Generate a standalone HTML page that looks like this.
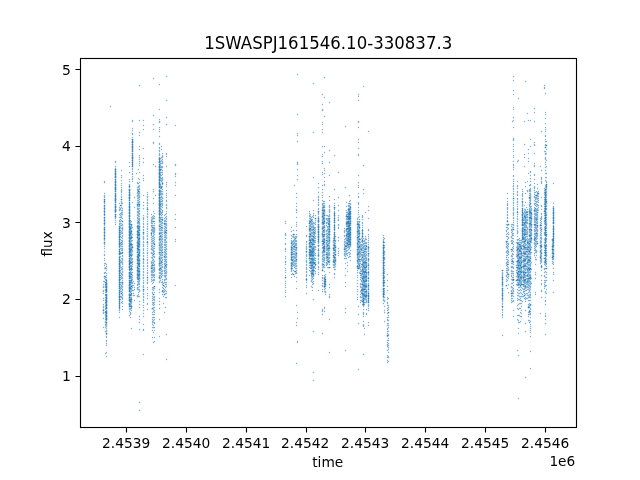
<!DOCTYPE html>
<html><head><meta charset="utf-8"><title>1SWASPJ161546.10-330837.3</title>
<style>html,body{margin:0;padding:0;background:#fff}svg{display:block}text{font-family:'DejaVu Sans','Liberation Sans',sans-serif;fill:#000}</style></head>
<body>
<svg width="640" height="480" viewBox="0 0 640 480">
<rect width="640" height="480" fill="#fff"/>
<g fill="none" stroke="#1f77b4" stroke-linecap="round">
<path stroke-width="1.35" stroke-opacity="0.58" d="M103.5 281.5h0M103.5 284.5h0M103.5 286.5v1M103.5 290.5v1M103.5 293.5h0M103.5 298.5h0M103.5 300.5h0M103.5 304.5h0M103.5 306.5v1M103.5 309.5h0M103.5 312.5v1M103.5 318.5h0M103.5 327.5h0M104.5 181.5v1M104.5 193.5h0M104.5 195.5v2M104.5 200.5h0M104.5 202.5v1M104.5 206.5v1M104.5 209.5v1M104.5 212.5v1M104.5 215.5h0M104.5 218.5v1M104.5 221.5v1M104.5 224.5v1M104.5 228.5h0M104.5 230.5v1M104.5 233.5v1M104.5 236.5v1M104.5 239.5v1M104.5 243.5v1M104.5 246.5h0M104.5 248.5h0M104.5 251.5h0M104.5 254.5v1M104.5 258.5h0M104.5 260.5h0M104.5 263.5h0M104.5 265.5h0M104.5 268.5h0M104.5 272.5v1M104.5 278.5h0M104.5 281.5h0M105.5 263.5h0M105.5 267.5v1M105.5 272.5h0M105.5 276.5v1M105.5 279.5h0M105.5 284.5v3M105.5 289.5v1M105.5 292.5h0M105.5 294.5v1M105.5 297.5h0M105.5 299.5v1M105.5 302.5v1M105.5 305.5v1M105.5 308.5v1M105.5 311.5h0M105.5 314.5v1M105.5 317.5h0M105.5 319.5h0M105.5 321.5v1M105.5 324.5v1M105.5 327.5h0M105.5 331.5h0M105.5 353.5h0M106.5 264.5h0M106.5 266.5h0M106.5 268.5h0M106.5 270.5h0M106.5 273.5h0M106.5 275.5h0M106.5 277.5h0M106.5 279.5h0M106.5 281.5v1M106.5 285.5h0M106.5 288.5h0M106.5 292.5h0M106.5 296.5h0M106.5 299.5h0M106.5 303.5h0M106.5 306.5h0M106.5 310.5h0M106.5 314.5h0M106.5 317.5h0M106.5 320.5h0M106.5 323.5v3M106.5 328.5h0M106.5 330.5v1M106.5 334.5h0M106.5 336.5v1M106.5 340.5v1M106.5 343.5h0M106.5 345.5h0M106.5 352.5h0M106.5 356.5h0M110.5 106.5h0M115.5 161.5v1M115.5 166.5h0M115.5 168.5h0M115.5 170.5h0M115.5 172.5h0M115.5 175.5h0M115.5 180.5h0M115.5 183.5h0M115.5 186.5h0M115.5 190.5h0M115.5 194.5h0M115.5 197.5h0M115.5 201.5h0M115.5 205.5h0M115.5 208.5h0M115.5 212.5h0M115.5 215.5h0M115.5 217.5v1M115.5 220.5h0M115.5 222.5h0M115.5 224.5h0M119.5 203.5h0M119.5 207.5h0M119.5 209.5v1M119.5 214.5h0M119.5 217.5h0M119.5 220.5v1M119.5 223.5v1M119.5 227.5h0M119.5 229.5h0M119.5 231.5h0M119.5 233.5h0M119.5 235.5h0M119.5 238.5h0M119.5 240.5h0M119.5 242.5h0M119.5 245.5h0M119.5 247.5h0M119.5 250.5h0M119.5 252.5h0M119.5 256.5h0M119.5 258.5h0M119.5 260.5h0M119.5 262.5h0M119.5 265.5h0M119.5 267.5h0M119.5 269.5h0M119.5 272.5h0M119.5 274.5h0M119.5 276.5h0M119.5 278.5h0M119.5 281.5h0M119.5 283.5h0M119.5 285.5h0M119.5 287.5h0M119.5 291.5h0M119.5 293.5h0M119.5 295.5h0M119.5 298.5h0M119.5 300.5h0M119.5 302.5h0M119.5 304.5h0M119.5 306.5h0M119.5 308.5v2M119.5 312.5h0M119.5 317.5h0M120.5 208.5v1M120.5 213.5h0M120.5 215.5h0M120.5 217.5h0M120.5 219.5h0M120.5 221.5h0M120.5 223.5h0M120.5 225.5h0M120.5 227.5h0M120.5 230.5h0M120.5 232.5h0M120.5 234.5h0M120.5 236.5h0M120.5 239.5h0M120.5 243.5h0M120.5 245.5h0M120.5 248.5h0M120.5 252.5h0M120.5 256.5h0M120.5 260.5h0M120.5 262.5h0M120.5 265.5h0M120.5 267.5h0M120.5 270.5h0M120.5 272.5h0M120.5 275.5h0M120.5 277.5h0M120.5 279.5h0M120.5 282.5h0M120.5 284.5h0M120.5 287.5h0M120.5 289.5h0M120.5 291.5h0M120.5 296.5h0M120.5 299.5h0M121.5 170.5h0M121.5 175.5h0M121.5 177.5h0M121.5 180.5h0M121.5 183.5h0M121.5 185.5h0M121.5 187.5h0M121.5 189.5v3M121.5 194.5h0M121.5 196.5v1M121.5 201.5v2M121.5 205.5h0M121.5 207.5h0M121.5 210.5h0M121.5 212.5v2M121.5 216.5v1M121.5 220.5h0M121.5 223.5h0M121.5 225.5h0M121.5 228.5h0M121.5 231.5h0M121.5 233.5h0M121.5 237.5h0M121.5 240.5h0M121.5 244.5h0M121.5 246.5h0M121.5 248.5h0M121.5 250.5h0M121.5 253.5h0M121.5 258.5h0M121.5 261.5v1M121.5 267.5h0M121.5 269.5h0M121.5 273.5v1M121.5 276.5h0M121.5 278.5h0M121.5 282.5h0M121.5 285.5v1M121.5 288.5h0M121.5 291.5h0M121.5 296.5v1M121.5 302.5h0M122.5 203.5h0M122.5 208.5h0M122.5 210.5h0M122.5 212.5h0M122.5 214.5h0M122.5 218.5h0M122.5 224.5v1M122.5 227.5v3M122.5 232.5v1M122.5 235.5v1M122.5 238.5h0M122.5 240.5v1M122.5 243.5v1M122.5 246.5h0M122.5 248.5v2M122.5 253.5h0M122.5 255.5v1M122.5 258.5v2M122.5 262.5v2M122.5 266.5h0M122.5 268.5v1M122.5 271.5v1M122.5 274.5v1M122.5 277.5v1M122.5 280.5h0M122.5 283.5v1M122.5 286.5v1M122.5 289.5v1M122.5 292.5h0M122.5 294.5v1M122.5 297.5v2M122.5 301.5h0M122.5 303.5h0M122.5 306.5h0M122.5 309.5h0M129.5 162.5h0M129.5 166.5h0M129.5 172.5h0M129.5 179.5h0M129.5 181.5h0M129.5 184.5v1M129.5 187.5h0M129.5 191.5h0M129.5 193.5h0M129.5 196.5h0M129.5 199.5h0M129.5 203.5h0M129.5 205.5h0M129.5 208.5h0M129.5 211.5h0M129.5 214.5h0M129.5 217.5h0M129.5 219.5h0M129.5 222.5h0M129.5 225.5h0M129.5 228.5h0M129.5 230.5h0M129.5 233.5h0M129.5 236.5h0M129.5 239.5h0M129.5 242.5h0M129.5 244.5h0M129.5 247.5h0M129.5 250.5h0M129.5 253.5h0M129.5 255.5h0M129.5 259.5h0M129.5 262.5h0M129.5 265.5h0M129.5 268.5h0M129.5 270.5h0M129.5 274.5h0M129.5 277.5h0M129.5 281.5h0M129.5 283.5h0M129.5 286.5h0M129.5 289.5h0M129.5 293.5h0M129.5 296.5h0M129.5 298.5h0M129.5 301.5h0M129.5 305.5h0M129.5 308.5v1M129.5 311.5h0M129.5 315.5h0M130.5 220.5h0M130.5 222.5h0M130.5 224.5h0M130.5 226.5v1M130.5 229.5v3M130.5 234.5v3M130.5 239.5h0M130.5 241.5v2M130.5 245.5h0M130.5 247.5v2M130.5 251.5v3M130.5 257.5v2M130.5 261.5h0M130.5 263.5h0M130.5 265.5v1M130.5 268.5h0M130.5 271.5v3M130.5 277.5v1M130.5 280.5v1M130.5 283.5v1M130.5 286.5v1M130.5 289.5h0M130.5 291.5v1M130.5 294.5h0M130.5 297.5v3M130.5 302.5h0M130.5 304.5v2M130.5 308.5v1M130.5 312.5v2M130.5 317.5h0M131.5 221.5h0M131.5 225.5v3M131.5 230.5h0M131.5 232.5v1M131.5 235.5v1M131.5 238.5h0M131.5 240.5v1M131.5 243.5h0M131.5 245.5v3M131.5 251.5v3M131.5 256.5h0M131.5 258.5v2M131.5 263.5h0M131.5 265.5v2M131.5 269.5v1M131.5 272.5v1M131.5 276.5v3M131.5 281.5v2M131.5 285.5h0M131.5 288.5v3M131.5 294.5v1M131.5 297.5v1M131.5 300.5v3M131.5 305.5h0M131.5 307.5v1M131.5 310.5h0M131.5 328.5h0M132.5 120.5v1M132.5 128.5h0M132.5 130.5h0M132.5 133.5v1M132.5 137.5h0M132.5 140.5h0M132.5 143.5h0M132.5 145.5h0M132.5 148.5h0M132.5 150.5h0M132.5 154.5h0M132.5 156.5h0M132.5 159.5h0M132.5 161.5h0M132.5 163.5h0M132.5 165.5h0M132.5 168.5v1M132.5 171.5h0M132.5 173.5v1M132.5 176.5h0M132.5 178.5v1M132.5 181.5h0M132.5 202.5h0M132.5 227.5h0M132.5 234.5h0M132.5 237.5h0M132.5 240.5h0M132.5 244.5h0M132.5 246.5h0M132.5 250.5v1M132.5 254.5h0M132.5 258.5v1M132.5 261.5v1M132.5 264.5h0M132.5 266.5h0M132.5 269.5h0M132.5 272.5h0M132.5 275.5h0M132.5 277.5h0M132.5 279.5h0M132.5 282.5v1M132.5 285.5h0M132.5 287.5h0M132.5 290.5h0M133.5 281.5h0M133.5 285.5h0M133.5 290.5h0M133.5 293.5h0M133.5 295.5h0M134.5 197.5h0M134.5 207.5h0M134.5 283.5h0M134.5 287.5h0M134.5 289.5h0M134.5 295.5h0M134.5 300.5h0M136.5 173.5h0M137.5 182.5v1M137.5 187.5h0M137.5 189.5v1M137.5 192.5v1M137.5 195.5v1M137.5 198.5h0M137.5 200.5h0M137.5 202.5h0M137.5 205.5v1M137.5 208.5v1M137.5 211.5v1M137.5 214.5v1M137.5 217.5v1M137.5 220.5h0M137.5 222.5v1M137.5 225.5h0M137.5 227.5v1M137.5 230.5h0M137.5 232.5v1M137.5 235.5v1M137.5 238.5h0M137.5 240.5v1M137.5 243.5v1M137.5 246.5v1M137.5 249.5v2M137.5 254.5v1M137.5 257.5v1M137.5 260.5v2M137.5 265.5v1M137.5 268.5v1M137.5 271.5v2M137.5 275.5v1M137.5 278.5v1M137.5 281.5h0M137.5 284.5v1M137.5 287.5v2M137.5 295.5v1M138.5 169.5h0M138.5 178.5h0M138.5 183.5h0M138.5 186.5v1M138.5 189.5v1M138.5 193.5v2M138.5 197.5v1M138.5 200.5h0M138.5 202.5v2M138.5 206.5h0M138.5 208.5v1M138.5 211.5v2M138.5 215.5v1M138.5 218.5v1M138.5 222.5v1M138.5 225.5v2M138.5 229.5v2M138.5 233.5v1M138.5 237.5v1M138.5 240.5v2M138.5 244.5v1M138.5 247.5v1M138.5 250.5v1M138.5 253.5h0M138.5 255.5v1M138.5 258.5v1M138.5 261.5v2M138.5 265.5v1M138.5 269.5v1M138.5 272.5v2M138.5 276.5v2M138.5 281.5v3M138.5 287.5h0M138.5 289.5h0M138.5 292.5h0M138.5 294.5h0M138.5 296.5h0M139.5 85.5h0M139.5 120.5h0M139.5 132.5h0M139.5 135.5h0M139.5 146.5h0M139.5 149.5h0M139.5 155.5h0M139.5 157.5h0M139.5 159.5h0M139.5 161.5h0M139.5 163.5h0M139.5 165.5h0M139.5 172.5h0M139.5 179.5h0M139.5 182.5h0M139.5 185.5v1M139.5 188.5v1M139.5 191.5v2M139.5 195.5v2M139.5 199.5h0M139.5 201.5v1M139.5 205.5v1M139.5 208.5h0M139.5 210.5v1M139.5 213.5v1M139.5 216.5h0M139.5 218.5v2M139.5 222.5v2M139.5 227.5v2M139.5 232.5v1M139.5 235.5v2M139.5 239.5v1M139.5 242.5v1M139.5 245.5v2M139.5 250.5v1M139.5 253.5v1M139.5 256.5h0M139.5 258.5v1M139.5 261.5v1M139.5 264.5v1M139.5 268.5v2M139.5 272.5v1M139.5 275.5v2M139.5 280.5v1M139.5 283.5v1M139.5 286.5h0M139.5 289.5v2M139.5 296.5h0M139.5 301.5h0M139.5 304.5h0M139.5 307.5h0M139.5 316.5h0M139.5 319.5h0M139.5 322.5h0M139.5 329.5h0M139.5 402.5h0M139.5 410.5h0M143.5 120.5h0M143.5 125.5h0M143.5 129.5h0M143.5 148.5h0M143.5 158.5h0M143.5 162.5h0M143.5 175.5h0M143.5 178.5h0M143.5 180.5h0M143.5 195.5h0M143.5 202.5h0M143.5 205.5h0M143.5 208.5h0M143.5 215.5h0M143.5 217.5v2M143.5 221.5h0M143.5 223.5v1M143.5 226.5v1M143.5 229.5v1M143.5 233.5v1M143.5 236.5v3M143.5 241.5v1M143.5 244.5v2M143.5 248.5v2M143.5 252.5v1M143.5 255.5v1M143.5 258.5h0M143.5 261.5v2M143.5 265.5v1M143.5 268.5v1M143.5 271.5v1M143.5 274.5v1M143.5 277.5v1M143.5 280.5h0M143.5 282.5v1M143.5 285.5v2M143.5 290.5v1M143.5 293.5v1M143.5 296.5v1M143.5 299.5v1M143.5 302.5h0M143.5 305.5h0M143.5 307.5h0M143.5 310.5h0M143.5 313.5h0M143.5 316.5h0M143.5 324.5h0M143.5 329.5v1M143.5 354.5h0M147.5 192.5h0M147.5 194.5h0M147.5 196.5v1M147.5 199.5v1M147.5 202.5v1M147.5 205.5h0M147.5 207.5v1M147.5 211.5h0M147.5 213.5v1M147.5 216.5v1M147.5 219.5h0M147.5 221.5h0M147.5 223.5v1M147.5 226.5h0M147.5 228.5v1M147.5 231.5h0M147.5 233.5h0M147.5 235.5v1M147.5 238.5v1M147.5 241.5h0M147.5 244.5h0M147.5 246.5h0M147.5 248.5h0M147.5 250.5h0M147.5 252.5v1M147.5 255.5h0M147.5 257.5h0M147.5 259.5v1M147.5 262.5v1M147.5 265.5v1M147.5 268.5h0M147.5 270.5h0M147.5 272.5v1M147.5 275.5h0M147.5 279.5v1M147.5 282.5v1M147.5 287.5h0M147.5 289.5h0M147.5 293.5h0M147.5 295.5h0M147.5 298.5h0M147.5 303.5v1M147.5 309.5h0M151.5 214.5h0M151.5 217.5h0M151.5 219.5v4M151.5 225.5v1M151.5 229.5v1M151.5 232.5h0M151.5 234.5v1M151.5 237.5h0M151.5 239.5h0M151.5 241.5h0M151.5 243.5h0M151.5 245.5v1M151.5 248.5v1M151.5 252.5v1M151.5 257.5h0M151.5 261.5v2M151.5 265.5v2M151.5 270.5v2M151.5 274.5v1M151.5 277.5h0M151.5 279.5h0M151.5 281.5h0M152.5 216.5h0M152.5 218.5v1M152.5 221.5h0M152.5 223.5h0M152.5 225.5h0M152.5 229.5v2M152.5 236.5h0M152.5 238.5h0M152.5 240.5v1M152.5 243.5h0M152.5 245.5h0M152.5 247.5h0M152.5 249.5v1M152.5 253.5h0M152.5 255.5h0M152.5 257.5v1M152.5 260.5h0M152.5 262.5h0M152.5 264.5h0M152.5 267.5v1M152.5 270.5v2M152.5 274.5v1M152.5 277.5h0M152.5 280.5h0M152.5 283.5h0M152.5 287.5h0M152.5 289.5h0M152.5 292.5v1M152.5 296.5h0M152.5 298.5h0M152.5 300.5h0M152.5 302.5h0M152.5 304.5h0M152.5 312.5h0M152.5 314.5h0M152.5 317.5h0M152.5 319.5h0M152.5 321.5v1M152.5 324.5h0M152.5 327.5h0M152.5 330.5h0M152.5 337.5h0M153.5 78.5h0M153.5 115.5h0M153.5 124.5h0M153.5 129.5h0M153.5 142.5v1M153.5 164.5h0M153.5 189.5h0M153.5 191.5h0M153.5 198.5h0M153.5 203.5h0M153.5 211.5h0M153.5 215.5h0M153.5 217.5v1M153.5 225.5h0M153.5 227.5v6M153.5 235.5v1M153.5 238.5h0M153.5 240.5h0M153.5 242.5v1M153.5 246.5h0M153.5 248.5h0M153.5 250.5v2M153.5 256.5h0M153.5 259.5v1M153.5 262.5v1M153.5 265.5h0M153.5 267.5h0M153.5 269.5v1M153.5 272.5h0M153.5 274.5v2M153.5 279.5v1M153.5 282.5h0M153.5 287.5v1M153.5 290.5h0M153.5 297.5h0M153.5 299.5h0M153.5 302.5v1M153.5 305.5h0M153.5 307.5h0M153.5 309.5h0M153.5 311.5h0M153.5 314.5h0M153.5 317.5h0M153.5 320.5h0M153.5 322.5h0M153.5 325.5h0M153.5 327.5h0M153.5 332.5h0M153.5 342.5h0M154.5 213.5h0M154.5 216.5h0M154.5 218.5h0M154.5 221.5h0M154.5 223.5h0M154.5 225.5h0M154.5 227.5v5M154.5 234.5h0M154.5 237.5h0M154.5 239.5h0M154.5 241.5h0M154.5 243.5h0M154.5 246.5h0M154.5 248.5h0M154.5 251.5h0M154.5 253.5h0M154.5 256.5v1M154.5 261.5h0M154.5 264.5v1M154.5 267.5v4M154.5 274.5v1M154.5 277.5h0M154.5 279.5v1M154.5 288.5h0M154.5 292.5h0M154.5 296.5v1M154.5 299.5v1M154.5 302.5h0M154.5 304.5h0M154.5 307.5h0M154.5 310.5h0M154.5 312.5h0M154.5 314.5h0M154.5 317.5h0M154.5 319.5h0M154.5 322.5v1M154.5 327.5h0M154.5 330.5h0M154.5 337.5h0M154.5 341.5h0M155.5 166.5h0M155.5 195.5h0M159.5 84.5h0M159.5 109.5h0M159.5 119.5h0M159.5 121.5v1M159.5 127.5h0M159.5 129.5h0M159.5 131.5h0M159.5 136.5h0M159.5 143.5v1M159.5 147.5v1M159.5 150.5v1M159.5 153.5v2M159.5 157.5h0M159.5 160.5h0M159.5 165.5h0M159.5 168.5h0M159.5 171.5h0M159.5 175.5h0M159.5 178.5h0M159.5 181.5h0M159.5 185.5h0M159.5 189.5h0M159.5 192.5h0M159.5 196.5h0M159.5 199.5h0M159.5 202.5h0M159.5 206.5h0M159.5 209.5h0M159.5 212.5h0M159.5 215.5v1M159.5 218.5v1M159.5 221.5v1M159.5 224.5v1M159.5 228.5v2M159.5 232.5h0M159.5 234.5h0M159.5 236.5v2M159.5 240.5h0M159.5 242.5v2M159.5 247.5v3M159.5 253.5v1M159.5 256.5v1M159.5 259.5v3M159.5 264.5v2M159.5 268.5h0M159.5 270.5h0M159.5 272.5v1M159.5 275.5v1M159.5 278.5h0M159.5 281.5v1M159.5 289.5h0M159.5 292.5h0M159.5 298.5h0M159.5 301.5h0M159.5 304.5h0M159.5 308.5h0M159.5 319.5h0M159.5 336.5h0M160.5 158.5h0M160.5 161.5h0M160.5 163.5h0M160.5 165.5h0M160.5 167.5h0M160.5 170.5h0M160.5 172.5h0M160.5 174.5v1M160.5 177.5v1M160.5 180.5h0M160.5 184.5v2M160.5 188.5h0M160.5 190.5v2M160.5 194.5h0M160.5 197.5h0M160.5 199.5h0M160.5 201.5v1M160.5 205.5v1M160.5 208.5v1M160.5 211.5v1M160.5 214.5h0M160.5 217.5v2M160.5 221.5v1M160.5 224.5h0M160.5 226.5h0M160.5 228.5h0M160.5 230.5h0M160.5 232.5v1M160.5 235.5h0M160.5 238.5v1M160.5 241.5v1M160.5 244.5h0M160.5 246.5v1M160.5 249.5v1M160.5 252.5h0M160.5 254.5v1M160.5 257.5h0M160.5 259.5v1M160.5 262.5v1M160.5 265.5h0M160.5 267.5h0M160.5 270.5h0M160.5 272.5v1M160.5 275.5h0M160.5 278.5h0M160.5 280.5h0M161.5 146.5h0M161.5 149.5h0M161.5 157.5h0M161.5 160.5h0M161.5 163.5h0M161.5 166.5v1M161.5 169.5h0M161.5 172.5h0M161.5 175.5h0M161.5 178.5h0M161.5 180.5v1M161.5 186.5h0M161.5 188.5h0M161.5 191.5h0M161.5 193.5v1M161.5 196.5v1M161.5 199.5h0M161.5 201.5h0M161.5 203.5h0M161.5 206.5h0M161.5 209.5h0M161.5 212.5v1M161.5 215.5h0M161.5 217.5h0M161.5 219.5h0M161.5 221.5h0M161.5 223.5h0M161.5 225.5h0M161.5 229.5v1M161.5 232.5v1M161.5 235.5h0M161.5 237.5h0M161.5 239.5v1M161.5 243.5v2M161.5 247.5v1M161.5 250.5v1M161.5 253.5h0M161.5 255.5h0M161.5 257.5v1M161.5 262.5v1M161.5 265.5h0M161.5 267.5h0M161.5 269.5h0M161.5 271.5h0M161.5 273.5v1M161.5 276.5v1M161.5 282.5h0M162.5 153.5h0M162.5 155.5v2M162.5 159.5h0M162.5 161.5v2M162.5 166.5v1M162.5 170.5h0M162.5 172.5h0M162.5 174.5h0M162.5 177.5v3M162.5 182.5h0M162.5 184.5h0M162.5 186.5h0M162.5 189.5h0M162.5 191.5h0M162.5 193.5v1M162.5 197.5v1M162.5 200.5v1M162.5 203.5v2M162.5 207.5h0M162.5 210.5v2M162.5 214.5h0M162.5 217.5h0M162.5 220.5h0M162.5 222.5v1M162.5 225.5h0M162.5 227.5v1M162.5 230.5h0M162.5 232.5h0M162.5 234.5h0M162.5 236.5h0M162.5 238.5v1M162.5 241.5v1M162.5 244.5h0M162.5 246.5v1M162.5 249.5v1M162.5 254.5v1M162.5 257.5h0M162.5 259.5v1M162.5 262.5h0M162.5 264.5h0M162.5 266.5v1M162.5 270.5v1M162.5 273.5h0M162.5 275.5h0M162.5 279.5h0M162.5 281.5v1M162.5 284.5h0M162.5 287.5h0M162.5 290.5h0M162.5 294.5h0M163.5 283.5h0M163.5 288.5h0M163.5 290.5h0M163.5 292.5h0M163.5 296.5h0M163.5 303.5h0M164.5 215.5h0M164.5 218.5h0M164.5 220.5v1M164.5 224.5h0M164.5 226.5h0M164.5 228.5h0M164.5 230.5v3M164.5 235.5h0M164.5 237.5h0M164.5 239.5v1M164.5 242.5h0M164.5 244.5v1M164.5 247.5h0M164.5 249.5h0M164.5 251.5v1M164.5 254.5h0M164.5 257.5h0M164.5 259.5h0M164.5 261.5h0M164.5 263.5v1M164.5 266.5v2M164.5 270.5v1M164.5 273.5h0M164.5 275.5v1M164.5 279.5v1M164.5 282.5h0M164.5 286.5h0M164.5 289.5h0M164.5 291.5h0M164.5 312.5h0M165.5 214.5h0M165.5 217.5h0M165.5 220.5v1M165.5 223.5v1M165.5 226.5v1M165.5 229.5h0M165.5 231.5h0M165.5 234.5h0M165.5 236.5v1M165.5 239.5v1M165.5 242.5h0M165.5 244.5v1M165.5 247.5h0M165.5 249.5v1M165.5 252.5v1M165.5 255.5h0M165.5 257.5h0M165.5 259.5v2M165.5 263.5h0M165.5 266.5h0M165.5 268.5h0M165.5 270.5h0M165.5 272.5v1M165.5 275.5v2M165.5 279.5h0M165.5 282.5h0M165.5 284.5h0M165.5 287.5h0M165.5 290.5h0M165.5 293.5h0M165.5 297.5h0M165.5 307.5h0M166.5 76.5h0M166.5 100.5h0M166.5 117.5h0M166.5 124.5h0M166.5 153.5v1M166.5 156.5h0M166.5 166.5h0M166.5 182.5h0M166.5 184.5h0M166.5 186.5h0M166.5 190.5h0M166.5 193.5h0M166.5 195.5h0M166.5 197.5h0M166.5 200.5v1M166.5 204.5v1M166.5 207.5v1M166.5 211.5h0M166.5 213.5h0M166.5 216.5h0M166.5 218.5v1M166.5 221.5h0M166.5 223.5v2M166.5 227.5v1M166.5 232.5v1M166.5 235.5h0M166.5 237.5v1M166.5 241.5v1M166.5 244.5h0M166.5 246.5h0M166.5 248.5v1M166.5 251.5h0M166.5 253.5v1M166.5 256.5v1M166.5 259.5h0M166.5 261.5v1M166.5 266.5v1M166.5 269.5h0M166.5 271.5v2M166.5 275.5h0M166.5 278.5v1M166.5 282.5h0M166.5 284.5h0M166.5 286.5h0M166.5 291.5h0M166.5 293.5h0M166.5 297.5h0M166.5 334.5h0M166.5 359.5h0M175.5 125.5h0M175.5 164.5v1M175.5 173.5v1M175.5 176.5h0M175.5 182.5h0M175.5 185.5h0M175.5 195.5h0M175.5 214.5h0M175.5 219.5h0M175.5 227.5h0M175.5 239.5h0M175.5 241.5h0M175.5 285.5h0M285.5 221.5h0M285.5 223.5h0M285.5 233.5v2M285.5 238.5h0M285.5 243.5v1M285.5 248.5v1M285.5 251.5h0M285.5 256.5h0M285.5 258.5h0M285.5 261.5v1M285.5 264.5h0M285.5 268.5h0M285.5 270.5h0M285.5 272.5h0M285.5 275.5h0M285.5 281.5h0M285.5 283.5h0M285.5 285.5h0M285.5 287.5h0M285.5 290.5h0M285.5 292.5h0M285.5 296.5h0M291.5 227.5h0M291.5 231.5h0M291.5 235.5h0M291.5 238.5h0M291.5 240.5v2M291.5 245.5v1M291.5 248.5h0M291.5 250.5v1M291.5 253.5h0M291.5 255.5v1M291.5 258.5h0M291.5 260.5h0M291.5 262.5h0M291.5 264.5h0M291.5 266.5v1M291.5 269.5v2M291.5 274.5h0M291.5 277.5h0M292.5 236.5h0M292.5 241.5v1M292.5 244.5v1M292.5 247.5v1M292.5 250.5h0M292.5 252.5v2M292.5 256.5v1M292.5 259.5h0M292.5 262.5v2M292.5 266.5h0M292.5 268.5h0M292.5 273.5h0M293.5 230.5h0M293.5 236.5v1M293.5 240.5v1M293.5 243.5v1M293.5 246.5h0M293.5 248.5v1M293.5 251.5h0M293.5 253.5v1M293.5 256.5v1M293.5 259.5h0M293.5 261.5v1M293.5 264.5v1M293.5 270.5h0M294.5 185.5h0M294.5 234.5h0M294.5 237.5h0M294.5 239.5v1M294.5 242.5v1M294.5 245.5h0M294.5 247.5h0M294.5 249.5h0M294.5 251.5h0M294.5 253.5v1M294.5 256.5v2M294.5 260.5v1M294.5 263.5h0M294.5 265.5h0M294.5 267.5h0M294.5 271.5h0M294.5 276.5h0M295.5 236.5h0M295.5 240.5v1M295.5 243.5v2M295.5 247.5h0M295.5 249.5v1M295.5 252.5h0M295.5 254.5v1M295.5 257.5v1M295.5 260.5v1M295.5 263.5v1M295.5 266.5h0M295.5 268.5h0M295.5 273.5h0M296.5 193.5h0M296.5 197.5h0M296.5 203.5h0M296.5 206.5h0M296.5 209.5v1M296.5 212.5h0M296.5 217.5h0M296.5 222.5h0M296.5 224.5h0M296.5 226.5h0M296.5 230.5h0M296.5 234.5h0M296.5 236.5v1M296.5 240.5v1M296.5 243.5v2M296.5 248.5v2M296.5 252.5h0M296.5 254.5v3M296.5 260.5v1M296.5 263.5h0M296.5 265.5v1M296.5 268.5h0M296.5 270.5h0M296.5 272.5v1M296.5 277.5h0M296.5 281.5h0M296.5 288.5h0M296.5 305.5h0M296.5 322.5h0M296.5 325.5h0M296.5 363.5h0M297.5 74.5h0M297.5 114.5h0M297.5 133.5h0M297.5 135.5h0M297.5 141.5h0M297.5 162.5v2M297.5 169.5h0M297.5 175.5h0M297.5 179.5h0M297.5 312.5h0M297.5 318.5h0M297.5 341.5v1M306.5 226.5h0M306.5 235.5v1M306.5 241.5v1M306.5 244.5h0M306.5 246.5v3M306.5 252.5h0M306.5 254.5v2M306.5 258.5h0M306.5 260.5v2M306.5 264.5v1M306.5 267.5v2M306.5 271.5v1M306.5 274.5v2M306.5 278.5h0M306.5 280.5h0M306.5 282.5h0M306.5 285.5h0M306.5 287.5h0M306.5 293.5h0M309.5 211.5h0M309.5 213.5h0M309.5 215.5v1M309.5 218.5h0M309.5 220.5v2M309.5 225.5v3M309.5 230.5v1M309.5 233.5v1M309.5 237.5v2M309.5 242.5h0M309.5 244.5v1M309.5 247.5h0M309.5 250.5v1M309.5 253.5h0M309.5 255.5v2M309.5 260.5h0M309.5 262.5v1M309.5 265.5h0M309.5 267.5h0M309.5 270.5h0M309.5 275.5h0M310.5 214.5h0M310.5 216.5h0M310.5 218.5v1M310.5 222.5h0M310.5 224.5v2M310.5 229.5v2M310.5 233.5h0M310.5 235.5v2M310.5 239.5h0M310.5 241.5h0M310.5 244.5v1M310.5 247.5h0M310.5 249.5h0M310.5 251.5h0M310.5 253.5v1M310.5 256.5h0M310.5 258.5v1M310.5 261.5h0M310.5 263.5h0M310.5 265.5h0M310.5 267.5v1M310.5 271.5h0M311.5 217.5h0M311.5 219.5h0M311.5 222.5v2M311.5 226.5v1M311.5 229.5v1M311.5 232.5v1M311.5 235.5v1M311.5 238.5v2M311.5 243.5v1M311.5 247.5v1M311.5 250.5h0M311.5 252.5v1M311.5 255.5v1M311.5 259.5v2M311.5 263.5v1M311.5 266.5v1M311.5 270.5v2M311.5 274.5v2M311.5 278.5h0M311.5 280.5v1M311.5 286.5h0M312.5 216.5h0M312.5 219.5h0M312.5 221.5h0M312.5 223.5v1M312.5 226.5v1M312.5 229.5v1M312.5 232.5v1M312.5 235.5v1M312.5 238.5h0M312.5 240.5v1M312.5 243.5h0M312.5 245.5h0M312.5 247.5v1M312.5 250.5v1M312.5 253.5v1M312.5 256.5v2M312.5 260.5v1M312.5 263.5v1M312.5 266.5v1M312.5 269.5h0M312.5 271.5v1M312.5 274.5h0M312.5 276.5v1M312.5 279.5h0M312.5 282.5h0M312.5 284.5h0M312.5 287.5h0M312.5 290.5h0M313.5 83.5h0M313.5 132.5h0M313.5 177.5h0M313.5 200.5h0M313.5 210.5h0M313.5 213.5h0M313.5 215.5h0M313.5 217.5h0M313.5 222.5v1M313.5 225.5v3M313.5 231.5v3M313.5 237.5v2M313.5 241.5v2M313.5 246.5v1M313.5 249.5v1M313.5 252.5v2M313.5 256.5h0M313.5 258.5h0M313.5 260.5v1M313.5 263.5v1M313.5 266.5h0M313.5 268.5v1M313.5 271.5v2M313.5 275.5v1M313.5 278.5h0M313.5 281.5h0M313.5 283.5h0M313.5 299.5h0M313.5 331.5h0M313.5 372.5h0M313.5 380.5h0M314.5 223.5h0M314.5 227.5v1M314.5 230.5h0M314.5 233.5v2M314.5 237.5v1M314.5 240.5v2M314.5 244.5h0M314.5 246.5v1M314.5 249.5v1M314.5 252.5h0M314.5 254.5h0M314.5 257.5v1M314.5 260.5h0M314.5 262.5h0M314.5 266.5v1M314.5 270.5h0M315.5 215.5h0M315.5 220.5h0M315.5 222.5h0M315.5 224.5h0M315.5 227.5h0M315.5 229.5h0M315.5 231.5h0M315.5 233.5h0M315.5 236.5h0M315.5 238.5h0M315.5 240.5h0M315.5 242.5h0M315.5 246.5v1M315.5 249.5h0M315.5 253.5h0M315.5 255.5h0M315.5 258.5h0M315.5 260.5h0M315.5 262.5h0M315.5 265.5h0M315.5 268.5h0M315.5 271.5h0M315.5 273.5h0M318.5 183.5h0M318.5 187.5h0M318.5 192.5h0M318.5 196.5v1M318.5 199.5v1M318.5 202.5h0M318.5 204.5v1M318.5 208.5v1M318.5 212.5v2M318.5 216.5v1M318.5 219.5h0M318.5 222.5h0M318.5 225.5h0M318.5 228.5h0M318.5 230.5h0M318.5 233.5h0M318.5 235.5h0M318.5 238.5h0M318.5 240.5h0M318.5 242.5v1M318.5 246.5h0M318.5 248.5v1M318.5 252.5v2M318.5 256.5h0M318.5 258.5v1M318.5 261.5v2M318.5 266.5v1M318.5 269.5h0M318.5 272.5h0M318.5 274.5h0M318.5 290.5h0M322.5 94.5h0M322.5 104.5h0M322.5 109.5v1M322.5 122.5h0M322.5 124.5h0M322.5 129.5h0M322.5 132.5h0M322.5 146.5h0M322.5 154.5h0M322.5 156.5h0M322.5 161.5h0M322.5 163.5h0M322.5 172.5h0M322.5 174.5h0M322.5 185.5h0M322.5 189.5h0M322.5 192.5h0M322.5 195.5h0M322.5 197.5h0M322.5 200.5h0M322.5 203.5v2M322.5 207.5v2M322.5 212.5v3M322.5 217.5h0M322.5 219.5v2M322.5 223.5v1M322.5 226.5v1M322.5 229.5h0M322.5 231.5v2M322.5 235.5v2M322.5 239.5v1M322.5 243.5v2M322.5 247.5v1M322.5 251.5v2M322.5 255.5v1M322.5 258.5v1M322.5 261.5h0M322.5 263.5v2M322.5 267.5h0M322.5 269.5h0M322.5 275.5h0M322.5 277.5v1M322.5 280.5h0M322.5 283.5h0M322.5 285.5v1M322.5 289.5h0M322.5 291.5h0M322.5 309.5v2M322.5 314.5h0M322.5 333.5h0M323.5 201.5h0M323.5 203.5h0M323.5 205.5v1M323.5 209.5v3M323.5 214.5v3M323.5 219.5v3M323.5 224.5h0M323.5 226.5v2M323.5 231.5v1M323.5 234.5v1M323.5 238.5v2M323.5 242.5h0M323.5 244.5h0M323.5 246.5h0M323.5 248.5v1M323.5 251.5v1M323.5 254.5v1M323.5 257.5h0M323.5 259.5v2M323.5 266.5v1M324.5 77.5h0M324.5 97.5h0M324.5 116.5h0M324.5 146.5h0M324.5 152.5h0M324.5 168.5h0M324.5 170.5h0M324.5 173.5h0M324.5 177.5h0M324.5 181.5h0M324.5 184.5v1M324.5 201.5h0M324.5 203.5h0M324.5 205.5v2M324.5 209.5h0M324.5 211.5v3M324.5 217.5v3M324.5 222.5v1M324.5 225.5v1M324.5 229.5v3M324.5 235.5v1M324.5 238.5h0M324.5 240.5v1M324.5 244.5v1M324.5 247.5h0M324.5 249.5v1M324.5 252.5h0M324.5 254.5v1M324.5 257.5v3M324.5 262.5h0M324.5 265.5h0M324.5 267.5h0M324.5 271.5h0M324.5 275.5h0M324.5 277.5h0M324.5 279.5v1M324.5 282.5h0M324.5 284.5v1M324.5 287.5h0M324.5 289.5h0M324.5 291.5h0M324.5 307.5v1M324.5 311.5h0M325.5 274.5h0M325.5 276.5v1M325.5 280.5h0M325.5 282.5v1M325.5 285.5v1M325.5 288.5h0M325.5 291.5v1M325.5 294.5h0M326.5 215.5h0M326.5 218.5v1M326.5 222.5v1M326.5 225.5h0M326.5 230.5v1M326.5 233.5v1M326.5 236.5h0M326.5 238.5h0M326.5 242.5v2M326.5 246.5v4M326.5 252.5v1M326.5 256.5v2M326.5 260.5h0M326.5 262.5v3M327.5 215.5h0M327.5 218.5h0M327.5 220.5h0M327.5 222.5h0M327.5 226.5v1M327.5 229.5v1M327.5 233.5h0M327.5 235.5v3M327.5 240.5v2M327.5 244.5h0M327.5 246.5h0M327.5 248.5v2M327.5 252.5v4M327.5 259.5v2M327.5 263.5v1M327.5 267.5h0M328.5 216.5h0M328.5 218.5v3M328.5 224.5h0M328.5 226.5h0M328.5 228.5v1M328.5 231.5v3M328.5 236.5v1M328.5 239.5h0M328.5 241.5h0M328.5 243.5v2M328.5 247.5h0M328.5 249.5v2M328.5 253.5v2M328.5 257.5v2M328.5 262.5h0M328.5 267.5h0M329.5 102.5h0M329.5 150.5h0M329.5 162.5h0M329.5 175.5h0M329.5 196.5h0M329.5 200.5h0M329.5 205.5v2M329.5 209.5v3M329.5 214.5v2M329.5 219.5v1M329.5 222.5v1M329.5 225.5h0M329.5 227.5v1M329.5 230.5h0M329.5 232.5v1M329.5 235.5h0M329.5 238.5v1M329.5 241.5v2M329.5 245.5v2M329.5 250.5h0M329.5 252.5v3M329.5 257.5v1M329.5 260.5v2M329.5 264.5h0M329.5 272.5h0M329.5 284.5h0M329.5 287.5h0M329.5 294.5h0M329.5 296.5v1M329.5 319.5h0M329.5 352.5h0M333.5 238.5h0M333.5 240.5v2M333.5 244.5v1M333.5 247.5h0M333.5 249.5v1M333.5 252.5v1M333.5 256.5v1M333.5 259.5v1M333.5 262.5h0M333.5 264.5v1M333.5 267.5h0M334.5 155.5h0M334.5 189.5h0M334.5 199.5h0M334.5 203.5h0M334.5 205.5h0M334.5 208.5v1M334.5 211.5v1M334.5 214.5h0M334.5 216.5v1M334.5 219.5h0M334.5 221.5h0M334.5 224.5h0M334.5 226.5h0M334.5 228.5h0M334.5 230.5h0M334.5 233.5h0M334.5 235.5h0M334.5 237.5h0M334.5 239.5h0M334.5 242.5v2M334.5 246.5v3M334.5 252.5v2M334.5 256.5h0M334.5 258.5v3M334.5 264.5v1M334.5 267.5h0M334.5 269.5h0M334.5 273.5v1M334.5 277.5h0M335.5 236.5h0M335.5 240.5v1M335.5 243.5h0M335.5 245.5v1M335.5 249.5v3M335.5 255.5h0M335.5 257.5v2M335.5 261.5h0M335.5 263.5v1M335.5 266.5h0M335.5 269.5h0M338.5 172.5h0M338.5 197.5h0M338.5 205.5h0M338.5 210.5h0M338.5 215.5h0M338.5 217.5h0M338.5 219.5v1M338.5 224.5v1M338.5 227.5v1M338.5 237.5h0M338.5 240.5h0M338.5 248.5h0M338.5 251.5h0M338.5 253.5h0M338.5 255.5h0M344.5 228.5h0M344.5 230.5v2M344.5 235.5v1M344.5 239.5h0M344.5 241.5v1M344.5 244.5v1M344.5 247.5v1M344.5 251.5h0M344.5 253.5v2M344.5 258.5h0M345.5 126.5h0M345.5 187.5h0M345.5 238.5h0M345.5 241.5h0M345.5 243.5h0M345.5 245.5h0M345.5 248.5v1M345.5 251.5v1M345.5 254.5h0M345.5 256.5h0M345.5 258.5h0M345.5 263.5h0M345.5 268.5h0M345.5 275.5h0M345.5 282.5h0M345.5 286.5h0M345.5 308.5h0M345.5 312.5h0M345.5 350.5h0M346.5 202.5h0M346.5 206.5h0M346.5 210.5h0M346.5 212.5h0M346.5 214.5v1M346.5 218.5v1M346.5 221.5v1M346.5 224.5v2M346.5 228.5h0M346.5 230.5v1M346.5 233.5v1M346.5 236.5v4M346.5 242.5v1M346.5 245.5h0M346.5 248.5h0M346.5 250.5v1M346.5 253.5v1M346.5 258.5h0M347.5 212.5h0M347.5 214.5h0M347.5 217.5v2M347.5 221.5h0M347.5 223.5v3M347.5 229.5h0M347.5 231.5v2M347.5 236.5v3M347.5 242.5h0M347.5 244.5v1M347.5 247.5h0M347.5 250.5h0M347.5 253.5h0M347.5 255.5h0M347.5 262.5h0M347.5 265.5h0M347.5 271.5h0M348.5 203.5h0M348.5 205.5v1M348.5 208.5h0M348.5 210.5v1M348.5 214.5v1M348.5 217.5h0M348.5 219.5v1M348.5 222.5h0M348.5 224.5v1M348.5 227.5h0M348.5 229.5v1M348.5 232.5h0M348.5 234.5v1M348.5 237.5h0M348.5 239.5v1M348.5 242.5h0M348.5 245.5v2M348.5 249.5h0M348.5 252.5h0M348.5 257.5h0M349.5 195.5h0M349.5 201.5h0M349.5 203.5h0M349.5 205.5v1M349.5 208.5h0M349.5 210.5v1M349.5 213.5h0M349.5 215.5v1M349.5 218.5h0M349.5 221.5v1M349.5 224.5h0M349.5 226.5v1M349.5 229.5h0M349.5 231.5v1M349.5 234.5h0M349.5 236.5v1M349.5 240.5h0M349.5 242.5v1M349.5 246.5v2M349.5 252.5h0M349.5 254.5h0M349.5 256.5h0M350.5 200.5h0M350.5 203.5v1M350.5 206.5h0M350.5 208.5v1M350.5 212.5h0M350.5 214.5v1M350.5 217.5h0M350.5 219.5v1M350.5 222.5h0M350.5 224.5v1M350.5 228.5h0M350.5 230.5v1M350.5 233.5h0M350.5 235.5v1M350.5 238.5h0M350.5 240.5v1M350.5 243.5h0M350.5 245.5v1M350.5 250.5h0M350.5 253.5h0M350.5 256.5h0M350.5 260.5h0M357.5 218.5v1M357.5 221.5v2M357.5 226.5v3M357.5 232.5v3M357.5 238.5v2M357.5 242.5h0M357.5 244.5v3M357.5 250.5v3M357.5 255.5v3M357.5 261.5v2M357.5 265.5h0M357.5 267.5v1M357.5 270.5h0M357.5 272.5h0M357.5 275.5h0M357.5 277.5h0M357.5 280.5h0M357.5 283.5h0M357.5 286.5h0M357.5 289.5h0M357.5 291.5h0M357.5 294.5h0M357.5 297.5h0M357.5 299.5h0M358.5 94.5h0M358.5 96.5h0M358.5 100.5h0M358.5 121.5v1M358.5 127.5h0M358.5 139.5h0M358.5 142.5h0M358.5 148.5h0M358.5 154.5v1M358.5 175.5h0M358.5 182.5h0M358.5 185.5h0M358.5 187.5h0M358.5 193.5h0M358.5 196.5v1M358.5 202.5v2M358.5 207.5h0M358.5 210.5h0M358.5 212.5h0M358.5 214.5h0M358.5 217.5h0M358.5 221.5h0M358.5 223.5h0M358.5 225.5v2M358.5 229.5h0M358.5 231.5v3M358.5 237.5v3M358.5 242.5h0M358.5 244.5v2M358.5 248.5v1M358.5 251.5v1M358.5 254.5h0M358.5 256.5v2M358.5 261.5v3M358.5 266.5v1M358.5 306.5h0M358.5 314.5h0M358.5 323.5h0M358.5 369.5h0M359.5 216.5h0M359.5 219.5h0M359.5 221.5v1M359.5 224.5v2M359.5 228.5h0M359.5 230.5v2M359.5 234.5v2M359.5 238.5h0M359.5 241.5v2M359.5 245.5h0M359.5 247.5h0M359.5 249.5v2M359.5 254.5v3M359.5 260.5v1M359.5 263.5v1M359.5 266.5v2M359.5 272.5h0M360.5 239.5h0M360.5 242.5h0M360.5 244.5v1M360.5 247.5v2M360.5 251.5h0M360.5 253.5v1M360.5 256.5h0M360.5 259.5h0M360.5 261.5h0M360.5 263.5h0M360.5 267.5h0M360.5 269.5h0M360.5 271.5h0M360.5 275.5h0M360.5 277.5h0M360.5 279.5h0M360.5 283.5v1M360.5 286.5v1M360.5 291.5h0M360.5 294.5h0M360.5 296.5v1M360.5 300.5h0M360.5 302.5h0M361.5 238.5h0M361.5 241.5h0M361.5 244.5v2M361.5 248.5h0M361.5 250.5h0M361.5 252.5h0M361.5 254.5v1M361.5 258.5v2M361.5 264.5h0M361.5 266.5h0M361.5 270.5v1M361.5 274.5v1M361.5 277.5h0M361.5 280.5v1M361.5 284.5h0M361.5 287.5h0M361.5 289.5h0M361.5 292.5v1M361.5 297.5h0M361.5 300.5h0M362.5 215.5v2M362.5 219.5h0M362.5 222.5v1M362.5 225.5h0M362.5 227.5h0M362.5 229.5h0M362.5 231.5v1M362.5 234.5v1M362.5 237.5h0M362.5 239.5h0M362.5 241.5v1M362.5 244.5v1M362.5 247.5v1M362.5 250.5h0M362.5 252.5h0M362.5 254.5v2M362.5 259.5v2M362.5 263.5h0M362.5 265.5h0M362.5 267.5v1M362.5 270.5v2M362.5 274.5h0M362.5 276.5v1M362.5 279.5h0M362.5 281.5v2M362.5 286.5v2M362.5 290.5v2M362.5 294.5v3M362.5 299.5h0M362.5 304.5h0M363.5 86.5h0M363.5 165.5h0M363.5 189.5h0M363.5 193.5h0M363.5 238.5h0M363.5 241.5h0M363.5 243.5v1M363.5 246.5v2M363.5 250.5h0M363.5 254.5v2M363.5 258.5v3M363.5 263.5v2M363.5 268.5v2M363.5 272.5h0M363.5 274.5v1M363.5 277.5v2M363.5 281.5v3M363.5 286.5v2M363.5 290.5v1M363.5 293.5h0M363.5 295.5v2M363.5 299.5h0M363.5 301.5h0M363.5 303.5h0M363.5 305.5v1M363.5 309.5h0M363.5 312.5v2M363.5 316.5h0M363.5 321.5h0M363.5 324.5v2M363.5 354.5h0M364.5 240.5v1M364.5 243.5h0M364.5 245.5v1M364.5 248.5v1M364.5 253.5v3M364.5 258.5v1M364.5 261.5h0M364.5 263.5v3M364.5 268.5v1M364.5 271.5h0M364.5 273.5v2M364.5 278.5v2M364.5 282.5v2M364.5 286.5v2M364.5 291.5v3M364.5 296.5h0M364.5 298.5v1M364.5 302.5h0M364.5 304.5h0M364.5 328.5h0M364.5 334.5h0M365.5 212.5h0M365.5 236.5h0M365.5 238.5v1M365.5 242.5v1M365.5 245.5h0M365.5 247.5v1M365.5 251.5h0M365.5 253.5h0M365.5 255.5v3M365.5 260.5v1M365.5 263.5v2M365.5 268.5v2M365.5 272.5h0M365.5 274.5v1M365.5 277.5v3M365.5 283.5v2M365.5 287.5v2M365.5 292.5h0M365.5 294.5v1M365.5 297.5v2M365.5 302.5h0M366.5 239.5h0M366.5 242.5v1M366.5 245.5h0M366.5 248.5v1M366.5 251.5v1M366.5 254.5v1M366.5 257.5v3M366.5 263.5v2M366.5 267.5h0M366.5 269.5v1M366.5 273.5v2M366.5 277.5v2M366.5 281.5h0M366.5 283.5v2M366.5 287.5h0M366.5 289.5v1M366.5 292.5v2M366.5 296.5v1M366.5 299.5v3M366.5 309.5h0M366.5 313.5v1M368.5 131.5h0M368.5 206.5h0M368.5 210.5h0M368.5 218.5h0M368.5 229.5v1M368.5 234.5h0M368.5 236.5h0M368.5 238.5h0M368.5 240.5h0M368.5 242.5h0M368.5 244.5h0M368.5 246.5h0M368.5 248.5v3M368.5 254.5v2M368.5 258.5h0M368.5 260.5v1M368.5 263.5v1M368.5 267.5v2M368.5 271.5h0M368.5 273.5v2M368.5 277.5h0M368.5 280.5v1M368.5 283.5v1M368.5 286.5v2M368.5 291.5v1M368.5 294.5h0M368.5 297.5h0M368.5 299.5h0M368.5 301.5h0M368.5 304.5v2M368.5 308.5h0M368.5 310.5h0M368.5 322.5h0M368.5 325.5h0M383.5 235.5h0M383.5 237.5h0M383.5 239.5v2M383.5 244.5h0M383.5 246.5h0M383.5 249.5h0M383.5 251.5h0M383.5 254.5h0M383.5 256.5h0M383.5 259.5h0M383.5 261.5h0M383.5 264.5h0M383.5 266.5h0M383.5 269.5h0M383.5 271.5h0M383.5 274.5h0M383.5 276.5h0M383.5 279.5h0M383.5 281.5h0M383.5 284.5h0M383.5 286.5h0M383.5 290.5h0M383.5 292.5h0M383.5 295.5h0M383.5 297.5h0M383.5 299.5v1M383.5 303.5h0M384.5 238.5h0M384.5 242.5h0M384.5 245.5h0M384.5 247.5h0M384.5 251.5v1M384.5 254.5h0M384.5 257.5v2M384.5 262.5h0M384.5 265.5h0M384.5 269.5h0M384.5 271.5h0M384.5 273.5h0M384.5 276.5v1M384.5 280.5h0M384.5 285.5h0M384.5 288.5h0M384.5 290.5h0M384.5 292.5h0M384.5 294.5h0M384.5 297.5h0M384.5 300.5v1M384.5 306.5h0M384.5 310.5h0M384.5 312.5h0M384.5 321.5h0M387.5 274.5h0M387.5 280.5h0M387.5 286.5h0M387.5 290.5h0M387.5 297.5h0M387.5 299.5h0M387.5 302.5v1M387.5 305.5h0M387.5 308.5h0M387.5 310.5h0M387.5 313.5h0M387.5 317.5h0M387.5 319.5v1M387.5 323.5h0M387.5 325.5h0M387.5 328.5v1M387.5 331.5h0M387.5 333.5h0M387.5 336.5h0M387.5 340.5h0M387.5 342.5h0M387.5 344.5v2M387.5 350.5h0M387.5 355.5h0M387.5 357.5h0M387.5 360.5h0M387.5 362.5h0M388.5 298.5h0M388.5 305.5h0M388.5 307.5h0M388.5 309.5h0M388.5 315.5h0M388.5 317.5h0M388.5 320.5h0M388.5 323.5h0M388.5 325.5h0M388.5 327.5h0M388.5 331.5h0M388.5 334.5v1M388.5 338.5h0M388.5 340.5h0M388.5 343.5h0M388.5 345.5h0M388.5 347.5h0M388.5 349.5h0M388.5 352.5h0M388.5 356.5v1M388.5 361.5h0M502.5 272.5v4M502.5 278.5h0M502.5 280.5v1M502.5 283.5h0M502.5 285.5v1M502.5 289.5h0M502.5 291.5v1M502.5 294.5h0M502.5 296.5v1M502.5 299.5v2M502.5 303.5v1M502.5 307.5h0M502.5 309.5v1M502.5 312.5h0M502.5 314.5v1M502.5 317.5h0M502.5 335.5h0M506.5 224.5h0M506.5 227.5h0M506.5 230.5v1M506.5 234.5h0M506.5 236.5h0M506.5 242.5h0M506.5 244.5h0M506.5 246.5v1M506.5 251.5v1M506.5 255.5h0M506.5 257.5h0M506.5 259.5h0M506.5 262.5v1M506.5 265.5h0M506.5 268.5h0M506.5 270.5h0M506.5 272.5h0M506.5 275.5v1M506.5 279.5h0M506.5 281.5h0M507.5 193.5h0M507.5 198.5h0M507.5 201.5h0M507.5 203.5v2M507.5 207.5v2M507.5 211.5v1M507.5 214.5v1M507.5 217.5v1M507.5 220.5h0M507.5 224.5v1M507.5 227.5h0M507.5 229.5h0M507.5 233.5h0M507.5 236.5h0M507.5 239.5h0M507.5 241.5h0M507.5 243.5h0M507.5 245.5h0M507.5 247.5v1M507.5 250.5v1M507.5 253.5h0M507.5 255.5h0M507.5 259.5h0M507.5 261.5v1M507.5 266.5h0M507.5 268.5h0M507.5 270.5h0M507.5 272.5v2M507.5 277.5h0M507.5 280.5h0M507.5 288.5h0M508.5 228.5h0M508.5 232.5h0M508.5 234.5h0M508.5 237.5v1M508.5 243.5v1M508.5 246.5h0M508.5 249.5h0M508.5 251.5v1M508.5 254.5h0M508.5 257.5h0M508.5 260.5h0M508.5 262.5h0M508.5 264.5h0M508.5 267.5h0M508.5 269.5v1M508.5 276.5h0M508.5 278.5h0M508.5 284.5h0M508.5 292.5h0M511.5 224.5h0M511.5 226.5h0M511.5 229.5v1M511.5 232.5h0M511.5 236.5v1M511.5 240.5v1M511.5 243.5h0M511.5 251.5h0M511.5 255.5v1M511.5 259.5h0M511.5 261.5h0M511.5 263.5h0M511.5 266.5v1M511.5 270.5v1M511.5 273.5h0M511.5 275.5v1M511.5 279.5h0M511.5 283.5h0M511.5 286.5v1M511.5 290.5v1M511.5 295.5v1M511.5 298.5h0M511.5 300.5h0M511.5 302.5h0M512.5 121.5h0M512.5 224.5h0M512.5 227.5h0M512.5 229.5h0M512.5 231.5h0M512.5 233.5v2M512.5 238.5h0M512.5 240.5h0M512.5 242.5v1M512.5 247.5h0M512.5 249.5v1M512.5 253.5v1M512.5 256.5h0M512.5 258.5h0M512.5 260.5h0M512.5 263.5h0M512.5 266.5v1M512.5 271.5h0M512.5 273.5h0M512.5 277.5h0M512.5 279.5v1M512.5 283.5h0M512.5 287.5h0M512.5 289.5h0M512.5 292.5v1M512.5 295.5h0M512.5 298.5h0M512.5 301.5h0M513.5 76.5h0M513.5 80.5h0M513.5 90.5h0M513.5 94.5h0M513.5 107.5h0M513.5 109.5h0M513.5 117.5h0M513.5 120.5h0M513.5 127.5h0M513.5 138.5v2M513.5 144.5h0M513.5 146.5h0M513.5 149.5h0M513.5 151.5h0M513.5 155.5h0M513.5 157.5h0M513.5 161.5h0M513.5 164.5v1M513.5 167.5h0M513.5 169.5h0M513.5 175.5v1M513.5 179.5h0M513.5 181.5h0M513.5 183.5h0M513.5 185.5v1M513.5 188.5v1M513.5 191.5h0M513.5 193.5v1M513.5 196.5h0M513.5 200.5h0M513.5 202.5v1M513.5 205.5h0M513.5 207.5v3M513.5 212.5v3M513.5 217.5v1M513.5 220.5h0M513.5 222.5h0M513.5 224.5v1M513.5 227.5h0M513.5 233.5h0M513.5 235.5h0M513.5 238.5h0M513.5 241.5h0M513.5 244.5h0M513.5 246.5h0M513.5 248.5h0M513.5 251.5h0M513.5 254.5h0M513.5 258.5h0M513.5 261.5v1M513.5 264.5h0M513.5 267.5v1M513.5 271.5h0M513.5 273.5h0M513.5 275.5h0M513.5 277.5h0M513.5 280.5h0M513.5 282.5h0M513.5 285.5h0M513.5 288.5h0M513.5 290.5v1M513.5 293.5h0M513.5 296.5h0M513.5 300.5v1M513.5 310.5h0M513.5 316.5h0M516.5 242.5h0M516.5 247.5h0M516.5 250.5h0M516.5 254.5h0M516.5 256.5h0M516.5 261.5h0M516.5 265.5h0M516.5 267.5h0M516.5 270.5h0M516.5 272.5h0M516.5 276.5h0M516.5 284.5h0M517.5 161.5h0M517.5 181.5h0M517.5 185.5v1M517.5 188.5h0M517.5 191.5v1M517.5 194.5v1M517.5 198.5v1M517.5 201.5v1M517.5 204.5h0M517.5 206.5h0M517.5 208.5v1M517.5 211.5h0M517.5 214.5h0M517.5 216.5h0M517.5 218.5v1M517.5 221.5h0M517.5 223.5h0M517.5 225.5v1M517.5 228.5h0M517.5 230.5v3M517.5 236.5h0M517.5 239.5v1M517.5 242.5h0M517.5 245.5v3M517.5 250.5v3M517.5 256.5v2M517.5 260.5h0M517.5 262.5v3M517.5 268.5v2M517.5 272.5h0M517.5 274.5v3M517.5 280.5h0M517.5 282.5h0M517.5 284.5v1M517.5 289.5h0M517.5 292.5h0M517.5 295.5h0M517.5 298.5h0M517.5 300.5h0M517.5 305.5h0M517.5 308.5h0M517.5 315.5h0M517.5 319.5h0M517.5 350.5h0M518.5 98.5h0M518.5 160.5h0M518.5 239.5h0M518.5 242.5v2M518.5 246.5v1M518.5 249.5h0M518.5 251.5v2M518.5 255.5v1M518.5 258.5v1M518.5 261.5v3M518.5 266.5v3M518.5 272.5v3M518.5 277.5v3M518.5 282.5v1M518.5 285.5h0M518.5 287.5h0M518.5 290.5h0M518.5 293.5h0M518.5 295.5h0M518.5 299.5h0M518.5 304.5h0M518.5 309.5h0M518.5 315.5h0M518.5 320.5h0M518.5 322.5h0M518.5 328.5h0M518.5 333.5h0M518.5 355.5h0M518.5 398.5h0M519.5 238.5h0M519.5 240.5h0M519.5 242.5h0M519.5 245.5v2M519.5 249.5h0M519.5 251.5h0M519.5 253.5v1M519.5 256.5h0M519.5 258.5v3M519.5 263.5v2M519.5 267.5h0M519.5 269.5v3M519.5 275.5v1M519.5 278.5v1M519.5 281.5v3M519.5 287.5h0M519.5 290.5h0M519.5 293.5h0M519.5 296.5h0M519.5 299.5h0M519.5 303.5h0M519.5 308.5h0M519.5 315.5h0M519.5 322.5h0M520.5 240.5h0M520.5 242.5h0M520.5 244.5v1M520.5 247.5v3M520.5 253.5v1M520.5 256.5v1M520.5 260.5v1M520.5 263.5v1M520.5 266.5v3M520.5 272.5v2M520.5 276.5h0M520.5 278.5v5M520.5 286.5h0M520.5 289.5h0M520.5 292.5h0M520.5 296.5h0M520.5 298.5h0M520.5 300.5h0M520.5 303.5h0M520.5 308.5h0M520.5 312.5h0M520.5 316.5h0M520.5 321.5h0M521.5 240.5h0M521.5 242.5v1M521.5 245.5v2M521.5 249.5h0M521.5 251.5v1M521.5 254.5v2M521.5 259.5v2M521.5 263.5v1M521.5 266.5h0M521.5 268.5v3M521.5 274.5v2M521.5 278.5v1M521.5 281.5v2M521.5 287.5h0M521.5 290.5h0M521.5 293.5h0M521.5 296.5h0M521.5 300.5h0M521.5 303.5h0M521.5 306.5h0M521.5 310.5h0M521.5 313.5h0M521.5 316.5h0M522.5 189.5h0M522.5 191.5h0M522.5 193.5v3M522.5 198.5v1M522.5 202.5v4M522.5 209.5h0M522.5 211.5h0M522.5 213.5h0M522.5 216.5h0M522.5 218.5h0M522.5 221.5h0M522.5 223.5h0M522.5 227.5h0M522.5 229.5h0M522.5 232.5h0M522.5 234.5h0M522.5 236.5h0M522.5 238.5h0M522.5 241.5v1M522.5 245.5h0M522.5 249.5h0M522.5 255.5h0M522.5 261.5h0M522.5 266.5h0M522.5 271.5h0M522.5 276.5h0M522.5 280.5h0M522.5 284.5h0M522.5 288.5h0M522.5 294.5h0M522.5 296.5h0M522.5 301.5h0M523.5 213.5h0M523.5 218.5h0M523.5 220.5h0M523.5 222.5h0M523.5 224.5v1M523.5 227.5v2M523.5 231.5h0M523.5 233.5v1M523.5 236.5v1M523.5 239.5h0M523.5 241.5v1M523.5 244.5v1M523.5 248.5v1M523.5 251.5v1M523.5 255.5v1M523.5 258.5v1M523.5 261.5v1M523.5 264.5v1M523.5 267.5v1M523.5 270.5v1M523.5 273.5v3M523.5 278.5v4M523.5 285.5v1M523.5 289.5h0M523.5 291.5v1M523.5 296.5h0M524.5 121.5h0M524.5 144.5h0M524.5 154.5h0M524.5 157.5h0M524.5 166.5h0M524.5 205.5h0M524.5 209.5h0M524.5 211.5v1M524.5 214.5v1M524.5 217.5h0M524.5 219.5v1M524.5 222.5h0M524.5 224.5v3M524.5 230.5v3M524.5 235.5h0M524.5 237.5v2M524.5 242.5v1M524.5 245.5v1M524.5 248.5v1M524.5 251.5v1M524.5 254.5h0M524.5 256.5h0M524.5 258.5v1M524.5 261.5h0M524.5 263.5v2M524.5 268.5v1M524.5 271.5v1M524.5 275.5v2M524.5 279.5h0M524.5 281.5v2M524.5 285.5v1M524.5 288.5v1M524.5 291.5h0M524.5 293.5h0M524.5 298.5h0M525.5 81.5h0M525.5 182.5h0M525.5 186.5h0M525.5 193.5h0M525.5 202.5h0M525.5 209.5v1M525.5 212.5v1M525.5 215.5v1M525.5 218.5v3M525.5 224.5v3M525.5 230.5v3M525.5 236.5v3M525.5 241.5h0M525.5 243.5v2M525.5 248.5v1M525.5 251.5v1M525.5 254.5h0M525.5 256.5v2M525.5 260.5v1M525.5 263.5v1M525.5 266.5h0M525.5 268.5v2M525.5 273.5h0M525.5 275.5v2M525.5 280.5v3M525.5 285.5h0M525.5 287.5v1M525.5 290.5h0M525.5 294.5h0M525.5 297.5h0M525.5 299.5h0M525.5 301.5h0M525.5 310.5h0M525.5 323.5h0M525.5 331.5h0M525.5 377.5h0M526.5 207.5h0M526.5 211.5h0M526.5 214.5v1M526.5 217.5h0M526.5 219.5v4M526.5 225.5v2M526.5 230.5h0M526.5 232.5h0M526.5 234.5h0M526.5 236.5h0M526.5 239.5h0M526.5 244.5h0M526.5 247.5h0M526.5 249.5h0M526.5 254.5h0M526.5 256.5h0M526.5 258.5h0M526.5 263.5h0M526.5 266.5h0M526.5 268.5h0M526.5 272.5h0M526.5 275.5h0M526.5 278.5h0M526.5 282.5h0M526.5 284.5h0M526.5 287.5h0M526.5 290.5h0M526.5 293.5h0M526.5 298.5h0M527.5 113.5h0M527.5 181.5h0M527.5 190.5v1M527.5 209.5h0M527.5 211.5v1M527.5 216.5v1M527.5 219.5v1M527.5 222.5v1M527.5 227.5v2M527.5 231.5v3M527.5 236.5h0M527.5 238.5h0M527.5 240.5v1M527.5 243.5h0M527.5 245.5v3M527.5 251.5v1M527.5 254.5v1M527.5 257.5v1M527.5 260.5v1M527.5 263.5v1M527.5 266.5v1M527.5 270.5v2M527.5 274.5h0M527.5 276.5h0M527.5 278.5v2M527.5 282.5v2M527.5 286.5v1M527.5 289.5h0M527.5 293.5h0M527.5 295.5h0M527.5 298.5h0M528.5 120.5h0M528.5 149.5h0M528.5 153.5h0M528.5 158.5h0M528.5 161.5h0M528.5 173.5h0M528.5 239.5h0M528.5 241.5v3M528.5 246.5h0M528.5 249.5v2M528.5 253.5v1M528.5 256.5v1M528.5 260.5v2M528.5 264.5v1M528.5 267.5h0M528.5 270.5v4M528.5 276.5h0M528.5 279.5v3M528.5 284.5v1M528.5 287.5h0M528.5 289.5h0M528.5 292.5h0M528.5 295.5h0M528.5 297.5h0M528.5 300.5h0M528.5 304.5h0M528.5 306.5h0M528.5 312.5h0M528.5 314.5h0M528.5 316.5h0M528.5 320.5h0M529.5 185.5h0M529.5 189.5v2M529.5 193.5h0M529.5 195.5h0M529.5 198.5h0M529.5 200.5h0M529.5 202.5h0M529.5 204.5v2M529.5 208.5v2M529.5 212.5v3M529.5 218.5v3M529.5 224.5v3M529.5 230.5v2M529.5 234.5h0M529.5 236.5h0M529.5 238.5v3M529.5 244.5v4M529.5 250.5h0M529.5 252.5v2M529.5 256.5v1M529.5 259.5h0M529.5 261.5v1M529.5 264.5v1M529.5 267.5v1M529.5 270.5h0M529.5 272.5h0M529.5 274.5v3M529.5 280.5v1M529.5 283.5h0M529.5 285.5v1M529.5 288.5h0M529.5 290.5v1M529.5 294.5h0M529.5 296.5v1M529.5 300.5h0M529.5 303.5h0M529.5 305.5v2M529.5 310.5h0M529.5 312.5h0M529.5 314.5h0M529.5 320.5h0M529.5 322.5h0M530.5 120.5h0M530.5 139.5h0M530.5 146.5h0M530.5 171.5v1M530.5 175.5h0M530.5 178.5h0M530.5 181.5h0M530.5 184.5v1M530.5 188.5v3M530.5 193.5v8M530.5 204.5h0M530.5 206.5v1M530.5 209.5v2M530.5 213.5v3M530.5 218.5h0M530.5 220.5v2M530.5 224.5v2M530.5 228.5h0M530.5 231.5v3M530.5 236.5v4M530.5 242.5h0M530.5 244.5v4M530.5 250.5h0M530.5 252.5v2M530.5 256.5v1M530.5 260.5v1M530.5 263.5v3M530.5 269.5h0M530.5 271.5v1M530.5 274.5v2M530.5 278.5v1M530.5 281.5v3M530.5 286.5v1M530.5 289.5h0M530.5 292.5h0M530.5 294.5v1M530.5 297.5h0M530.5 300.5h0M530.5 305.5h0M530.5 308.5v1M530.5 311.5h0M530.5 313.5v1M530.5 317.5h0M530.5 321.5h0M530.5 324.5h0M530.5 326.5h0M530.5 328.5h0M530.5 330.5h0M530.5 332.5h0M530.5 336.5h0M530.5 351.5h0M530.5 368.5h0M531.5 206.5h0M531.5 208.5v2M531.5 212.5h0M531.5 214.5v3M531.5 219.5v3M531.5 225.5v2M531.5 229.5h0M531.5 232.5v3M531.5 237.5h0M531.5 239.5v1M531.5 242.5h0M531.5 247.5h0M531.5 252.5h0M531.5 262.5h0M531.5 269.5h0M531.5 278.5h0M531.5 283.5h0M534.5 108.5h0M534.5 112.5h0M534.5 121.5h0M534.5 142.5h0M534.5 144.5v1M534.5 153.5h0M534.5 163.5h0M534.5 165.5v1M534.5 174.5v1M534.5 179.5h0M534.5 183.5h0M534.5 186.5v2M534.5 190.5h0M534.5 192.5h0M534.5 194.5h0M534.5 196.5v1M534.5 200.5h0M534.5 203.5v1M534.5 207.5h0M534.5 209.5h0M534.5 211.5h0M534.5 213.5v1M534.5 216.5v6M534.5 225.5h0M534.5 227.5h0M534.5 229.5v2M534.5 233.5v1M534.5 236.5v2M534.5 240.5h0M534.5 242.5v2M534.5 246.5h0M534.5 248.5h0M534.5 250.5h0M534.5 253.5h0M534.5 255.5h0M535.5 192.5h0M535.5 195.5h0M535.5 197.5v2M535.5 201.5h0M535.5 203.5h0M535.5 205.5h0M535.5 210.5v1M535.5 213.5v2M535.5 217.5v2M535.5 221.5v1M535.5 225.5v3M535.5 230.5v1M535.5 233.5v2M535.5 237.5h0M535.5 240.5v1M535.5 243.5v2M535.5 247.5h0M535.5 249.5v1M535.5 252.5h0M535.5 257.5h0M535.5 259.5h0M535.5 264.5h0M535.5 272.5h0M535.5 274.5h0M535.5 278.5h0M535.5 292.5h0M535.5 294.5h0M536.5 191.5h0M536.5 197.5v1M536.5 201.5v1M536.5 204.5h0M536.5 206.5h0M536.5 209.5v2M536.5 213.5v2M536.5 217.5v1M536.5 220.5h0M536.5 222.5v1M536.5 225.5h0M536.5 227.5v3M536.5 232.5h0M536.5 235.5v2M536.5 239.5h0M536.5 241.5v1M536.5 244.5h0M536.5 246.5h0M536.5 250.5v2M536.5 255.5h0M536.5 259.5h0M537.5 184.5h0M537.5 188.5h0M537.5 192.5v4M537.5 198.5v1M537.5 201.5h0M537.5 204.5v1M537.5 208.5v2M537.5 214.5v5M537.5 221.5v2M537.5 226.5v1M537.5 229.5v2M537.5 233.5v3M537.5 238.5h0M537.5 241.5h0M538.5 191.5h0M538.5 196.5h0M538.5 198.5h0M538.5 200.5h0M538.5 202.5h0M538.5 205.5h0M538.5 207.5h0M538.5 210.5h0M540.5 166.5h0M540.5 218.5h0M540.5 220.5h0M540.5 222.5h0M540.5 224.5h0M540.5 227.5v1M540.5 230.5h0M540.5 232.5h0M540.5 234.5v1M540.5 237.5v1M540.5 240.5v3M540.5 246.5v2M540.5 250.5h0M540.5 252.5h0M540.5 254.5v2M540.5 258.5h0M540.5 260.5v1M540.5 263.5h0M540.5 313.5h0M541.5 131.5h0M541.5 170.5h0M541.5 177.5v2M541.5 181.5v2M541.5 197.5h0M541.5 205.5v1M541.5 209.5h0M541.5 213.5v1M541.5 216.5v3M541.5 221.5h0M541.5 223.5h0M541.5 225.5h0M541.5 227.5h0M541.5 231.5h0M541.5 233.5h0M541.5 235.5h0M541.5 237.5v2M541.5 241.5v1M541.5 244.5v1M541.5 247.5h0M541.5 249.5v1M541.5 252.5h0M541.5 255.5v1M541.5 258.5v4M541.5 265.5h0M541.5 267.5h0M541.5 270.5h0M541.5 275.5h0M541.5 280.5h0M541.5 283.5v1M541.5 290.5v1M541.5 297.5h0M544.5 85.5h0M544.5 87.5v1M544.5 151.5h0M544.5 188.5h0M544.5 190.5h0M544.5 192.5h0M544.5 194.5h0M544.5 197.5h0M544.5 199.5h0M544.5 201.5h0M544.5 203.5v1M544.5 206.5h0M544.5 208.5h0M544.5 210.5h0M544.5 213.5h0M544.5 215.5h0M544.5 218.5h0M544.5 220.5v1M544.5 223.5h0M544.5 227.5h0M544.5 229.5h0M544.5 232.5v2M544.5 239.5h0M544.5 242.5h0M544.5 244.5v1M544.5 247.5h0M544.5 250.5h0M544.5 252.5h0M544.5 255.5h0M544.5 261.5v1M544.5 264.5h0M544.5 268.5v1M544.5 272.5h0M544.5 275.5v1M544.5 280.5h0M544.5 282.5h0M544.5 284.5h0M544.5 286.5h0M544.5 288.5h0M545.5 93.5h0M545.5 112.5h0M545.5 114.5h0M545.5 118.5h0M545.5 123.5h0M545.5 127.5h0M545.5 129.5h0M545.5 131.5h0M545.5 135.5v1M545.5 139.5h0M545.5 141.5h0M545.5 144.5v1M545.5 151.5h0M545.5 153.5v1M545.5 157.5v2M545.5 162.5h0M545.5 164.5h0M545.5 167.5h0M545.5 170.5h0M545.5 173.5h0M545.5 177.5h0M545.5 180.5h0M545.5 185.5h0M545.5 187.5h0M545.5 190.5v1M545.5 194.5h0M545.5 196.5h0M545.5 198.5h0M545.5 201.5h0M545.5 203.5h0M545.5 205.5h0M545.5 207.5h0M545.5 210.5h0M545.5 212.5h0M545.5 214.5h0M545.5 216.5h0M545.5 219.5h0M545.5 221.5h0M545.5 223.5h0M545.5 227.5h0M545.5 229.5h0M545.5 231.5h0M545.5 233.5h0M545.5 237.5h0M545.5 239.5h0M545.5 241.5h0M545.5 243.5h0M545.5 247.5h0M545.5 249.5h0M545.5 251.5h0M545.5 254.5h0M545.5 257.5h0M545.5 259.5h0M545.5 261.5h0M545.5 263.5h0M545.5 265.5h0M545.5 268.5h0M545.5 271.5h0M545.5 277.5h0M545.5 280.5h0M545.5 282.5h0M545.5 285.5v1M545.5 291.5v1M545.5 297.5h0M545.5 300.5v1M545.5 304.5h0M545.5 313.5h0M545.5 315.5v1M545.5 319.5h0M545.5 323.5h0M545.5 334.5h0M546.5 141.5h0M546.5 149.5h0M546.5 153.5h0M546.5 160.5h0M546.5 166.5h0M546.5 173.5h0M546.5 177.5h0M546.5 181.5v1M546.5 185.5h0M546.5 187.5v2M546.5 191.5v1M546.5 194.5v1M546.5 197.5h0M546.5 199.5h0M546.5 202.5v1M546.5 205.5v1M546.5 208.5v1M546.5 212.5h0M546.5 214.5v1M546.5 217.5h0M546.5 219.5h0M546.5 221.5h0M546.5 223.5v2M546.5 227.5v1M546.5 230.5h0M546.5 232.5h0M546.5 235.5v1M546.5 238.5v1M546.5 241.5h0M546.5 244.5v2M546.5 248.5h0M546.5 250.5h0M546.5 252.5h0M546.5 254.5v2M546.5 259.5h0M546.5 261.5h0M546.5 263.5v1M546.5 266.5h0M546.5 272.5h0M546.5 274.5h0M546.5 277.5h0M546.5 280.5h0M546.5 285.5h0M546.5 289.5h0M546.5 293.5h0M552.5 240.5v1M552.5 243.5v2M552.5 247.5v1M552.5 250.5v2M552.5 255.5v1M552.5 258.5v1M552.5 261.5h0M552.5 263.5h0M553.5 183.5h0M553.5 203.5h0M553.5 206.5v1M553.5 209.5h0M553.5 211.5h0M553.5 214.5h0M553.5 216.5h0M553.5 219.5h0M553.5 221.5h0M553.5 225.5h0M553.5 227.5h0M553.5 230.5h0M553.5 232.5h0M553.5 235.5h0M553.5 237.5h0M553.5 239.5h0M553.5 241.5h0M553.5 243.5v1M553.5 246.5v1M553.5 250.5v2M553.5 254.5v1M553.5 258.5v1M553.5 262.5h0M553.5 264.5h0M553.5 268.5h0M553.5 272.5h0M553.5 274.5h0M553.5 280.5h0M553.5 292.5h0"/>
<path stroke-width="1.7" stroke-opacity="0.9" d="M103.5 310.5h0M104.5 199.5h0M104.5 201.5h0M104.5 205.5h0M104.5 208.5h0M104.5 211.5h0M104.5 214.5h0M104.5 217.5h0M104.5 220.5h0M104.5 223.5h0M104.5 227.5h0M104.5 229.5h0M104.5 232.5h0M104.5 235.5h0M104.5 238.5h0M104.5 242.5h0M104.5 276.5h0M105.5 282.5h0M105.5 312.5h0M106.5 280.5h0M106.5 283.5v1M106.5 286.5v1M106.5 289.5v2M106.5 294.5v1M106.5 297.5v1M106.5 300.5v2M106.5 304.5v1M106.5 307.5v1M106.5 311.5v2M106.5 315.5v1M106.5 318.5v1M106.5 322.5h0M106.5 333.5h0M115.5 169.5h0M115.5 171.5h0M115.5 173.5v1M115.5 176.5v1M115.5 179.5h0M115.5 181.5v1M115.5 184.5v1M115.5 187.5v2M115.5 191.5h0M115.5 193.5h0M115.5 195.5v1M115.5 198.5v2M115.5 202.5h0M115.5 204.5h0M115.5 206.5v1M115.5 209.5v2M115.5 214.5h0M115.5 216.5h0M119.5 226.5h0M119.5 228.5h0M119.5 230.5h0M119.5 232.5h0M119.5 234.5h0M119.5 236.5v1M119.5 239.5h0M119.5 241.5h0M119.5 243.5v1M119.5 246.5h0M119.5 249.5h0M119.5 251.5h0M119.5 253.5v1M119.5 257.5h0M119.5 259.5h0M119.5 261.5h0M119.5 263.5v1M119.5 266.5h0M119.5 268.5h0M119.5 270.5v1M119.5 273.5h0M119.5 275.5h0M119.5 277.5h0M119.5 279.5v1M119.5 282.5h0M119.5 284.5h0M119.5 286.5h0M119.5 288.5h0M119.5 290.5h0M119.5 292.5h0M119.5 294.5h0M119.5 296.5v1M119.5 299.5h0M119.5 301.5h0M119.5 303.5h0M119.5 305.5h0M119.5 307.5h0M120.5 205.5h0M120.5 253.5h0M121.5 199.5h0M121.5 242.5h0M121.5 293.5h0M122.5 221.5h0M122.5 252.5h0M122.5 282.5h0M129.5 186.5h0M129.5 189.5v1M129.5 192.5h0M129.5 194.5v1M129.5 197.5v1M129.5 200.5h0M129.5 202.5h0M129.5 204.5h0M129.5 206.5v1M129.5 209.5v1M129.5 212.5v1M129.5 215.5v1M129.5 218.5h0M129.5 220.5v1M129.5 223.5v1M129.5 226.5v1M129.5 229.5h0M129.5 231.5v1M129.5 234.5v1M129.5 237.5v1M129.5 240.5v1M129.5 243.5h0M129.5 245.5v1M129.5 248.5v1M129.5 251.5v1M129.5 254.5h0M129.5 256.5h0M129.5 258.5h0M129.5 260.5v1M129.5 263.5v1M129.5 266.5v1M129.5 269.5h0M129.5 272.5v1M129.5 275.5v1M129.5 278.5h0M129.5 280.5h0M129.5 282.5h0M129.5 284.5v1M129.5 287.5v1M129.5 290.5v1M129.5 294.5v1M129.5 297.5h0M129.5 299.5v1M129.5 303.5v1M129.5 306.5h0M130.5 228.5h0M130.5 233.5h0M130.5 238.5h0M130.5 244.5h0M130.5 250.5h0M130.5 255.5h0M130.5 262.5h0M130.5 269.5h0M130.5 276.5h0M130.5 282.5h0M130.5 288.5h0M130.5 295.5h0M130.5 301.5h0M131.5 224.5h0M131.5 231.5h0M131.5 237.5h0M131.5 244.5h0M131.5 249.5h0M131.5 255.5h0M131.5 262.5h0M131.5 268.5h0M131.5 274.5h0M131.5 280.5h0M131.5 286.5h0M131.5 293.5h0M131.5 299.5h0M131.5 306.5h0M132.5 139.5h0M132.5 141.5v1M132.5 144.5h0M132.5 146.5v1M132.5 149.5h0M132.5 151.5h0M132.5 153.5h0M132.5 155.5h0M132.5 157.5v1M132.5 160.5h0M132.5 162.5h0M132.5 164.5h0M132.5 166.5h0M132.5 247.5h0M137.5 204.5h0M137.5 226.5h0M137.5 231.5h0M137.5 234.5h0M137.5 237.5h0M137.5 242.5h0M137.5 245.5h0M137.5 248.5h0M137.5 252.5h0M137.5 256.5h0M137.5 259.5h0M137.5 263.5h0M137.5 267.5h0M137.5 270.5h0M137.5 274.5h0M137.5 277.5h0M138.5 191.5h0M138.5 221.5h0M138.5 228.5h0M138.5 232.5h0M138.5 235.5h0M138.5 239.5h0M138.5 243.5h0M138.5 246.5h0M138.5 249.5h0M138.5 254.5h0M138.5 257.5h0M138.5 260.5h0M138.5 264.5h0M138.5 268.5h0M138.5 271.5h0M138.5 275.5h0M138.5 279.5h0M139.5 204.5h0M139.5 226.5h0M139.5 230.5h0M139.5 234.5h0M139.5 238.5h0M139.5 241.5h0M139.5 244.5h0M139.5 249.5h0M139.5 252.5h0M139.5 255.5h0M139.5 260.5h0M139.5 263.5h0M139.5 266.5h0M139.5 271.5h0M139.5 274.5h0M139.5 278.5h0M143.5 232.5h0M143.5 259.5h0M143.5 289.5h0M147.5 209.5h0M147.5 242.5h0M147.5 277.5h0M151.5 233.5h0M151.5 268.5h0M152.5 227.5h0M152.5 265.5h0M152.5 308.5h0M153.5 221.5h0M153.5 254.5h0M153.5 294.5h0M154.5 244.5h0M154.5 286.5h0M159.5 158.5v1M159.5 161.5v1M159.5 164.5h0M159.5 166.5v1M159.5 169.5v1M159.5 172.5v2M159.5 176.5v1M159.5 179.5v1M159.5 182.5v2M159.5 186.5v1M159.5 190.5v1M159.5 193.5v2M159.5 197.5v1M159.5 200.5v1M159.5 203.5v2M159.5 207.5v1M159.5 210.5v1M159.5 213.5v1M159.5 217.5h0M159.5 220.5h0M159.5 226.5h0M159.5 233.5h0M159.5 239.5h0M159.5 245.5h0M159.5 252.5h0M159.5 258.5h0M159.5 263.5h0M159.5 269.5h0M159.5 277.5h0M160.5 169.5h0M160.5 204.5h0M160.5 236.5h0M160.5 268.5h0M161.5 187.5h0M161.5 227.5h0M161.5 261.5h0M162.5 183.5h0M162.5 219.5h0M162.5 252.5h0M162.5 291.5h0M163.5 285.5h0M164.5 223.5h0M164.5 256.5h0M164.5 294.5h0M165.5 232.5h0M165.5 265.5h0M166.5 230.5h0M166.5 264.5h0M285.5 277.5h0M291.5 243.5h0M291.5 247.5h0M291.5 249.5h0M291.5 252.5h0M291.5 254.5h0M291.5 257.5h0M291.5 259.5h0M291.5 263.5h0M291.5 265.5h0M291.5 268.5h0M292.5 260.5h0M293.5 234.5h0M293.5 274.5h0M294.5 246.5h0M295.5 238.5h0M295.5 271.5h0M296.5 247.5h0M296.5 253.5h0M296.5 259.5h0M306.5 251.5h0M306.5 279.5h0M309.5 223.5h0M309.5 229.5h0M309.5 236.5h0M309.5 240.5h0M309.5 243.5h0M309.5 246.5h0M309.5 249.5h0M309.5 252.5h0M309.5 254.5h0M309.5 258.5h0M310.5 221.5h0M310.5 228.5h0M310.5 234.5h0M310.5 240.5h0M310.5 242.5h0M310.5 246.5h0M310.5 250.5h0M310.5 252.5h0M310.5 255.5h0M310.5 262.5h0M311.5 220.5h0M311.5 242.5h0M311.5 246.5h0M311.5 251.5h0M311.5 254.5h0M311.5 258.5h0M311.5 262.5h0M311.5 265.5h0M311.5 268.5h0M311.5 273.5h0M312.5 239.5h0M312.5 244.5h0M312.5 249.5h0M312.5 252.5h0M312.5 255.5h0M312.5 259.5h0M312.5 262.5h0M312.5 265.5h0M312.5 270.5h0M312.5 273.5h0M313.5 229.5h0M313.5 236.5h0M313.5 240.5h0M313.5 244.5h0M313.5 248.5h0M313.5 251.5h0M313.5 255.5h0M313.5 259.5h0M313.5 262.5h0M313.5 267.5h0M313.5 270.5h0M313.5 274.5h0M314.5 232.5h0M314.5 263.5h0M315.5 218.5h0M315.5 264.5h0M318.5 211.5h0M318.5 218.5h0M318.5 220.5v1M318.5 224.5h0M318.5 226.5v1M318.5 229.5h0M318.5 231.5v1M318.5 234.5h0M318.5 236.5v1M318.5 239.5h0M318.5 241.5h0M318.5 245.5h0M318.5 250.5h0M318.5 255.5h0M322.5 210.5h0M322.5 216.5h0M322.5 222.5h0M322.5 228.5h0M322.5 234.5h0M322.5 241.5h0M322.5 270.5h0M323.5 207.5h0M323.5 213.5h0M323.5 218.5h0M323.5 223.5h0M323.5 230.5h0M323.5 236.5h0M323.5 241.5h0M323.5 243.5h0M323.5 247.5h0M323.5 250.5h0M323.5 264.5h0M324.5 210.5h0M324.5 215.5h0M324.5 221.5h0M324.5 227.5h0M324.5 234.5h0M324.5 239.5h0M324.5 242.5h0M324.5 246.5h0M324.5 248.5h0M324.5 251.5h0M324.5 278.5h0M324.5 281.5h0M324.5 283.5h0M324.5 286.5h0M325.5 279.5h0M325.5 281.5h0M325.5 284.5h0M326.5 240.5h0M326.5 254.5h0M327.5 245.5h0M327.5 257.5h0M328.5 223.5h0M328.5 248.5h0M328.5 261.5h0M329.5 218.5h0M329.5 221.5h0M329.5 224.5h0M329.5 226.5h0M329.5 229.5h0M329.5 231.5h0M329.5 234.5h0M329.5 237.5h0M329.5 240.5h0M329.5 248.5h0M329.5 267.5h0M333.5 248.5h0M333.5 255.5h0M333.5 261.5h0M334.5 207.5h0M334.5 213.5h0M334.5 215.5h0M334.5 218.5h0M334.5 220.5h0M334.5 222.5h0M334.5 225.5h0M334.5 227.5h0M334.5 229.5h0M334.5 232.5h0M334.5 234.5h0M334.5 236.5h0M334.5 238.5h0M334.5 240.5h0M334.5 245.5h0M334.5 250.5h0M334.5 257.5h0M334.5 262.5h0M335.5 247.5h0M335.5 254.5h0M335.5 260.5h0M344.5 249.5h0M345.5 246.5h0M346.5 216.5h0M346.5 223.5h0M346.5 229.5h0M346.5 235.5h0M346.5 246.5h0M347.5 216.5h0M347.5 222.5h0M347.5 228.5h0M347.5 234.5h0M347.5 240.5h0M347.5 243.5h0M348.5 209.5h0M348.5 213.5h0M348.5 216.5h0M348.5 218.5h0M348.5 221.5h0M348.5 223.5h0M348.5 226.5h0M348.5 228.5h0M348.5 231.5h0M348.5 233.5h0M348.5 236.5h0M348.5 238.5h0M348.5 241.5h0M348.5 244.5h0M349.5 209.5h0M349.5 212.5h0M349.5 214.5h0M349.5 217.5h0M349.5 219.5h0M349.5 223.5h0M349.5 225.5h0M349.5 228.5h0M349.5 230.5h0M349.5 233.5h0M349.5 235.5h0M349.5 239.5h0M349.5 241.5h0M349.5 244.5h0M350.5 207.5h0M350.5 211.5h0M350.5 213.5h0M350.5 216.5h0M350.5 218.5h0M350.5 221.5h0M350.5 223.5h0M350.5 227.5h0M350.5 229.5h0M350.5 232.5h0M350.5 234.5h0M350.5 237.5h0M350.5 239.5h0M350.5 242.5h0M350.5 244.5h0M357.5 224.5h0M357.5 231.5h0M357.5 237.5h0M357.5 243.5h0M357.5 249.5h0M357.5 254.5h0M357.5 260.5h0M357.5 266.5h0M358.5 224.5h0M358.5 230.5h0M358.5 236.5h0M358.5 241.5h0M358.5 247.5h0M358.5 253.5h0M358.5 259.5h0M358.5 268.5h0M359.5 227.5h0M359.5 233.5h0M359.5 239.5h0M359.5 246.5h0M359.5 252.5h0M359.5 259.5h0M359.5 265.5h0M360.5 273.5h0M361.5 249.5h0M361.5 290.5h0M362.5 230.5h0M362.5 233.5h0M362.5 236.5h0M362.5 240.5h0M362.5 257.5h0M362.5 264.5h0M362.5 269.5h0M362.5 273.5h0M362.5 278.5h0M362.5 284.5h0M362.5 289.5h0M362.5 293.5h0M362.5 301.5h0M363.5 252.5h0M363.5 262.5h0M363.5 266.5h0M363.5 271.5h0M363.5 276.5h0M363.5 280.5h0M363.5 285.5h0M363.5 289.5h0M363.5 294.5h0M363.5 298.5h0M363.5 300.5h0M363.5 302.5h0M363.5 304.5h0M364.5 251.5h0M364.5 262.5h0M364.5 267.5h0M364.5 272.5h0M364.5 277.5h0M364.5 281.5h0M364.5 285.5h0M364.5 289.5h0M364.5 295.5h0M365.5 249.5h0M365.5 262.5h0M365.5 267.5h0M365.5 271.5h0M365.5 276.5h0M365.5 281.5h0M365.5 286.5h0M365.5 291.5h0M365.5 296.5h0M366.5 246.5h0M366.5 262.5h0M366.5 266.5h0M366.5 272.5h0M366.5 276.5h0M366.5 280.5h0M366.5 286.5h0M366.5 291.5h0M366.5 295.5h0M368.5 247.5h0M368.5 253.5h0M368.5 259.5h0M368.5 265.5h0M368.5 272.5h0M368.5 278.5h0M368.5 285.5h0M368.5 289.5h0M368.5 293.5h0M368.5 295.5v1M368.5 298.5h0M368.5 300.5h0M368.5 302.5h0M383.5 242.5h0M383.5 245.5h0M383.5 247.5v1M383.5 250.5h0M383.5 252.5v1M383.5 255.5h0M383.5 257.5v1M383.5 260.5h0M383.5 262.5v1M383.5 265.5h0M383.5 267.5v1M383.5 270.5h0M383.5 272.5v1M383.5 275.5h0M383.5 277.5v1M383.5 280.5h0M383.5 282.5v1M383.5 285.5h0M383.5 288.5v1M383.5 291.5h0M383.5 293.5v1M383.5 296.5h0M384.5 282.5h0M387.5 335.5h0M388.5 312.5h0M502.5 270.5h0M502.5 277.5h0M502.5 279.5h0M502.5 282.5h0M502.5 284.5h0M502.5 288.5h0M502.5 290.5h0M502.5 293.5h0M502.5 295.5h0M502.5 298.5h0M502.5 306.5h0M506.5 241.5h0M506.5 285.5h0M507.5 221.5h0M507.5 264.5h0M508.5 224.5h0M508.5 274.5h0M511.5 249.5h0M511.5 293.5h0M512.5 261.5h0M513.5 198.5h0M513.5 229.5h0M513.5 279.5h0M516.5 280.5h0M517.5 212.5h0M517.5 243.5h0M517.5 249.5h0M517.5 255.5h0M517.5 261.5h0M517.5 267.5h0M517.5 273.5h0M517.5 279.5h0M518.5 248.5h0M518.5 254.5h0M518.5 260.5h0M518.5 265.5h0M518.5 271.5h0M518.5 276.5h0M518.5 284.5h0M519.5 244.5h0M519.5 250.5h0M519.5 257.5h0M519.5 262.5h0M519.5 268.5h0M519.5 274.5h0M519.5 280.5h0M520.5 246.5h0M520.5 251.5h0M520.5 258.5h0M520.5 265.5h0M520.5 271.5h0M520.5 277.5h0M520.5 285.5h0M521.5 248.5h0M521.5 253.5h0M521.5 257.5h0M521.5 262.5h0M521.5 267.5h0M521.5 272.5h0M521.5 277.5h0M521.5 284.5h0M522.5 201.5h0M522.5 208.5h0M522.5 210.5h0M522.5 212.5h0M522.5 214.5v1M522.5 217.5h0M522.5 219.5v1M522.5 222.5h0M522.5 224.5v1M522.5 228.5h0M522.5 230.5v1M522.5 233.5h0M522.5 235.5h0M522.5 237.5h0M522.5 239.5h0M523.5 238.5h0M523.5 246.5h0M523.5 253.5h0M523.5 260.5h0M523.5 266.5h0M523.5 272.5h0M523.5 277.5h0M523.5 284.5h0M524.5 216.5h0M524.5 223.5h0M524.5 229.5h0M524.5 234.5h0M524.5 241.5h0M524.5 247.5h0M524.5 253.5h0M524.5 260.5h0M524.5 266.5h0M524.5 274.5h0M524.5 280.5h0M524.5 295.5h0M525.5 217.5h0M525.5 222.5h0M525.5 229.5h0M525.5 234.5h0M525.5 240.5h0M525.5 247.5h0M525.5 253.5h0M525.5 259.5h0M525.5 265.5h0M525.5 272.5h0M525.5 279.5h0M525.5 286.5h0M526.5 212.5h0M526.5 251.5h0M527.5 214.5h0M527.5 242.5h0M527.5 249.5h0M527.5 256.5h0M527.5 262.5h0M527.5 269.5h0M527.5 275.5h0M527.5 281.5h0M528.5 247.5h0M528.5 259.5h0M528.5 268.5h0M528.5 278.5h0M528.5 307.5h0M529.5 197.5h0M529.5 211.5h0M529.5 217.5h0M529.5 223.5h0M529.5 229.5h0M529.5 235.5h0M529.5 243.5h0M529.5 251.5h0M529.5 260.5h0M529.5 269.5h0M529.5 278.5h0M529.5 311.5h0M530.5 203.5h0M530.5 212.5h0M530.5 217.5h0M530.5 223.5h0M530.5 229.5h0M530.5 235.5h0M530.5 241.5h0M530.5 249.5h0M530.5 258.5h0M530.5 268.5h0M530.5 277.5h0M530.5 304.5h0M531.5 213.5h0M531.5 218.5h0M531.5 224.5h0M531.5 230.5h0M531.5 238.5h0M534.5 210.5h0M534.5 224.5h0M534.5 239.5h0M535.5 208.5h0M535.5 224.5h0M535.5 238.5h0M536.5 195.5h0M536.5 219.5h0M536.5 233.5h0M537.5 212.5h0M537.5 225.5h0M537.5 243.5h0M538.5 193.5h0M540.5 225.5h0M540.5 245.5h0M540.5 251.5h0M540.5 257.5h0M541.5 229.5h0M541.5 246.5h0M541.5 253.5h0M541.5 266.5h0M544.5 211.5h0M544.5 258.5h0M545.5 147.5h0M545.5 189.5h0M545.5 192.5v1M545.5 195.5h0M545.5 197.5h0M545.5 199.5v1M545.5 202.5h0M545.5 204.5h0M545.5 206.5h0M545.5 208.5v1M545.5 211.5h0M545.5 213.5h0M545.5 215.5h0M545.5 217.5v1M545.5 220.5h0M545.5 222.5h0M545.5 224.5h0M545.5 226.5h0M545.5 228.5h0M545.5 230.5h0M545.5 232.5h0M545.5 234.5v1M545.5 238.5h0M545.5 240.5h0M545.5 242.5h0M545.5 245.5v1M545.5 248.5h0M545.5 250.5h0M545.5 252.5v1M545.5 255.5h0M545.5 258.5h0M545.5 260.5h0M545.5 262.5h0M546.5 145.5h0M546.5 184.5h0M546.5 186.5h0M546.5 201.5h0M546.5 234.5h0M546.5 268.5h0M552.5 239.5h0M552.5 246.5h0M552.5 249.5h0M552.5 253.5h0M552.5 257.5h0M553.5 208.5h0M553.5 210.5h0M553.5 212.5v1M553.5 215.5h0M553.5 217.5v1M553.5 220.5h0M553.5 222.5v1M553.5 226.5h0M553.5 228.5v1M553.5 231.5h0M553.5 233.5v1M553.5 236.5h0M553.5 238.5h0M553.5 240.5h0M553.5 242.5h0M553.5 245.5h0M553.5 249.5h0M553.5 253.5h0M553.5 256.5h0"/>
</g>
<path d="M126.5 427.5v5M186.5 427.5v5M246.5 427.5v5M306.5 427.5v5M365.5 427.5v5M425.5 427.5v5M485.5 427.5v5M545.5 427.5v5M80.5 69.5h-5M80.5 146.5h-5M80.5 222.5h-5M80.5 299.5h-5M80.5 376.5h-5" stroke="#000" stroke-width="1.11" fill="none"/>
<rect x="80.5" y="58.5" width="496" height="369" fill="none" stroke="#000" stroke-width="1.11"/>
<text x="126.125" y="447.5" font-size="13.75" text-anchor="middle">2.4539</text>
<text x="186.125" y="447.5" font-size="13.75" text-anchor="middle">2.4540</text>
<text x="246.125" y="447.5" font-size="13.75" text-anchor="middle">2.4541</text>
<text x="305.125" y="447.5" font-size="13.75" text-anchor="middle">2.4542</text>
<text x="365.125" y="447.5" font-size="13.75" text-anchor="middle">2.4543</text>
<text x="425.125" y="447.5" font-size="13.75" text-anchor="middle">2.4544</text>
<text x="485.125" y="447.5" font-size="13.75" text-anchor="middle">2.4545</text>
<text x="545.125" y="447.5" font-size="13.75" text-anchor="middle">2.4546</text>
<text x="70.78" y="380.53" font-size="13.89" text-anchor="end">1</text>
<text x="70.78" y="303.53" font-size="13.89" text-anchor="end">2</text>
<text x="70.78" y="227.53" font-size="13.89" text-anchor="end">3</text>
<text x="70.78" y="150.53" font-size="13.89" text-anchor="end">4</text>
<text x="70.78" y="74.53" font-size="13.89" text-anchor="end">5</text>
<text x="327.75" y="466.5" font-size="13.75" text-anchor="middle">time</text>
<text x="575.25" y="465.6" font-size="13.7" text-anchor="end">1e6</text>
<text transform="translate(51.5 243.9) rotate(-90)" font-size="13.5" text-anchor="middle">flux</text>
<text transform="translate(328.25 48.52) scale(0.995 1.04)" font-size="16.67" text-anchor="middle">1SWASPJ161546.10-330837.3</text>
</svg>
</body></html>
